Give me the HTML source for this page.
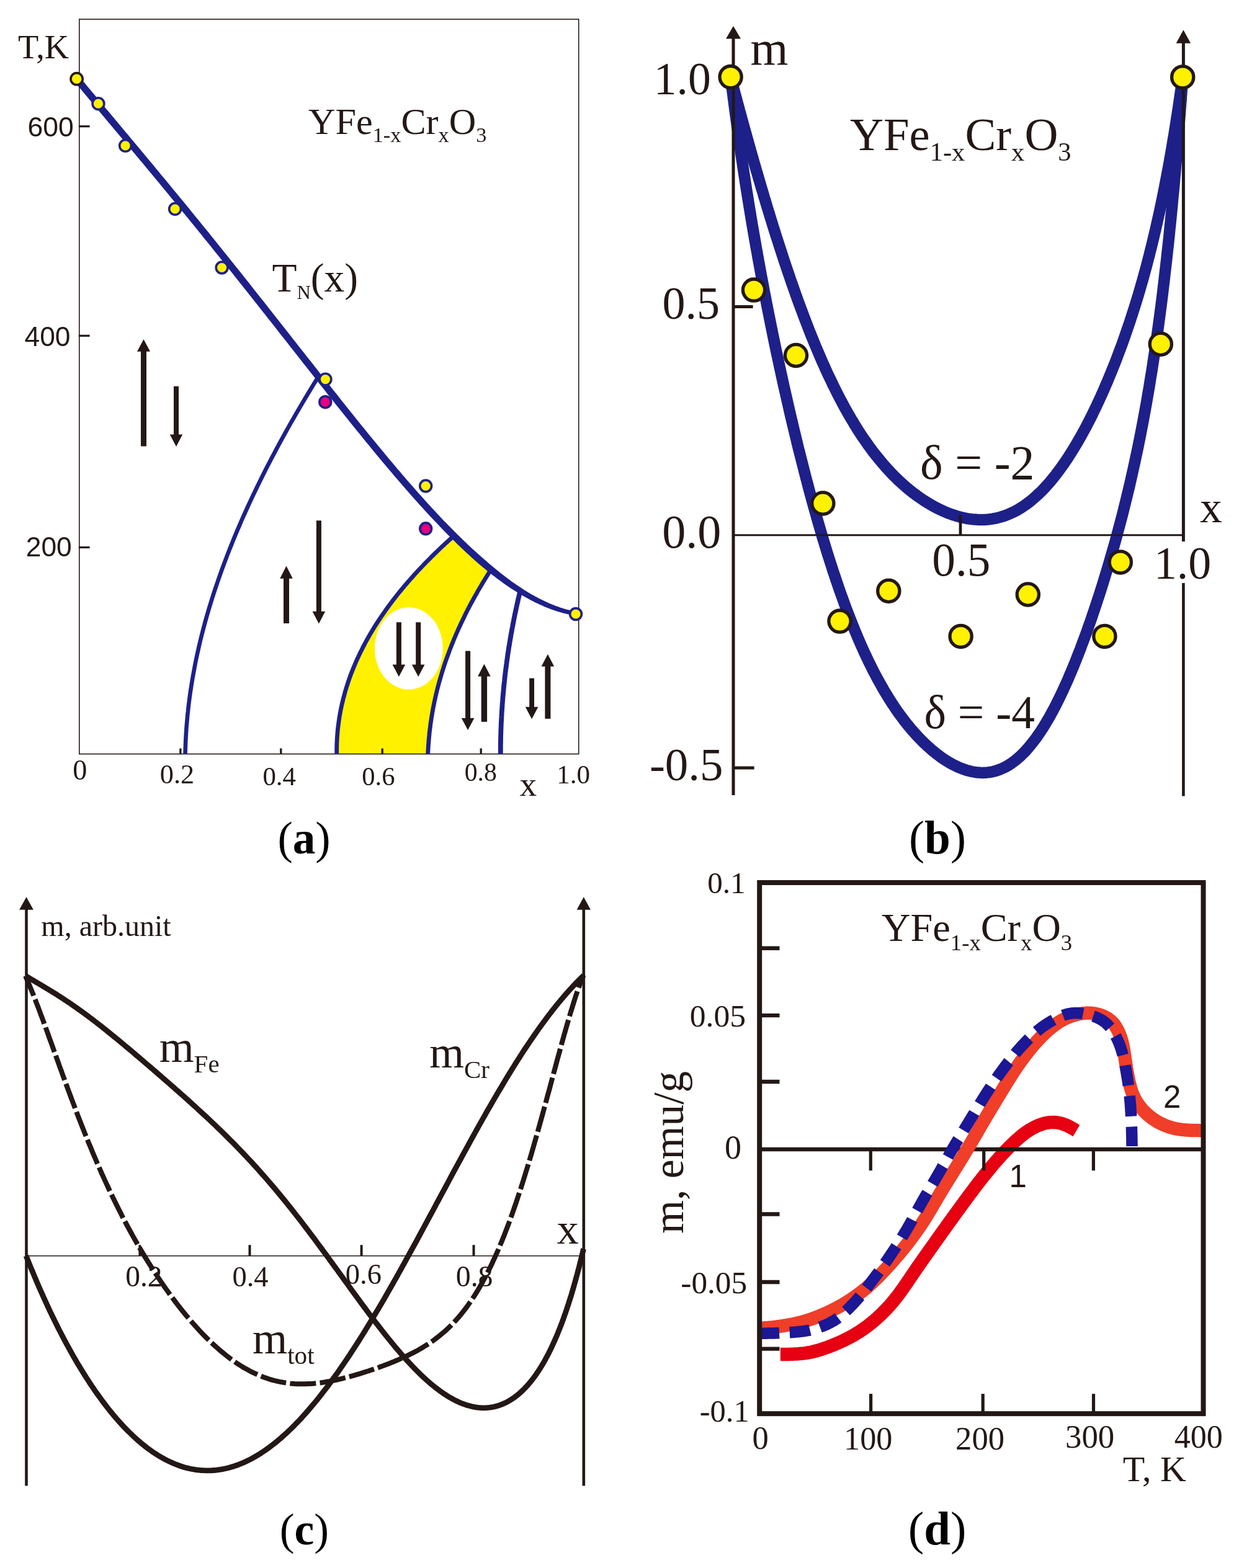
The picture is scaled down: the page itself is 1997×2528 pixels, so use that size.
<!DOCTYPE html>
<html lang="en"><head><meta charset="utf-8"><title>Figure</title>
<style>
html,body{margin:0;padding:0;background:#fff;}
body{width:1997px;height:2528px;overflow:hidden;}
svg{display:block;position:absolute;left:0;top:0;}
text{white-space:pre;}
</style></head><body>
<svg width="1997" height="2528" viewBox="0 0 1997 2528">
<rect x="0" y="0" width="1997" height="2528" fill="#ffffff"/>
<g id="panel-a">
<path d="M542.7 1216.0 L542.7 1215.9 L542.7 1215.8 L542.7 1215.5 L542.7 1215.0 L542.7 1214.5 L542.7 1213.8 L542.7 1213.0 L542.7 1212.1 L542.7 1211.1 L542.7 1210.0 L542.7 1208.7 L542.7 1207.3 L542.7 1205.8 L542.8 1204.2 L542.8 1202.5 L542.8 1200.7 L542.9 1198.7 L543.0 1196.7 L543.1 1194.5 L543.2 1192.2 L543.3 1189.9 L543.5 1187.4 L543.7 1184.8 L543.9 1182.1 L544.1 1179.3 L544.4 1176.5 L544.7 1173.5 L545.1 1170.4 L545.5 1167.3 L545.9 1164.1 L546.4 1160.7 L546.9 1157.3 L547.5 1153.8 L548.1 1150.3 L548.8 1146.6 L549.5 1142.9 L550.3 1139.1 L551.1 1135.3 L552.1 1131.4 L553.0 1127.4 L554.1 1123.4 L555.2 1119.3 L556.3 1115.1 L557.6 1110.9 L558.9 1106.6 L560.3 1102.4 L561.7 1098.0 L563.2 1093.6 L564.8 1089.2 L566.5 1084.8 L568.3 1080.3 L570.1 1075.8 L572.0 1071.3 L573.9 1066.7 L576.0 1062.1 L578.1 1057.6 L580.3 1053.0 L582.6 1048.4 L584.9 1043.8 L587.3 1039.1 L589.8 1034.5 L592.3 1029.9 L594.9 1025.3 L597.6 1020.8 L600.3 1016.2 L603.1 1011.6 L605.9 1007.1 L608.8 1002.6 L611.8 998.1 L614.8 993.7 L617.8 989.3 L620.9 984.9 L624.0 980.5 L627.1 976.3 L630.3 972.0 L633.4 967.8 L636.7 963.6 L639.9 959.5 L643.1 955.5 L646.4 951.5 L649.6 947.6 L652.8 943.8 L656.1 940.0 L659.3 936.3 L662.5 932.6 L665.7 929.1 L668.8 925.6 L671.9 922.2 L675.0 918.8 L678.1 915.6 L681.1 912.5 L684.0 909.4 L686.9 906.4 L689.7 903.6 L692.5 900.8 L695.1 898.1 L697.7 895.5 L700.3 893.0 L702.7 890.7 L705.1 888.4 L707.3 886.2 L709.5 884.2 L711.5 882.2 L713.5 880.4 L715.3 878.7 L717.1 877.1 L718.7 875.6 L720.2 874.2 L721.6 872.9 L722.8 871.8 L723.9 870.8 L724.9 869.9 L725.8 869.1 L726.6 868.4 L727.2 867.9 L727.6 867.4 L728.0 867.1 L728.2 867.0 L728.2 866.9 L729.3 861.7 L733.0 865.3 L736.6 868.8 L740.2 872.4 L743.7 875.8 L747.3 879.2 L750.8 882.5 L754.3 885.8 L757.7 889.0 L761.2 892.2 L764.6 895.3 L768.0 898.3 L771.3 901.3 L774.7 904.2 L778.0 907.1 L781.3 909.9 L784.5 912.6 L787.7 915.3 L789.7 921.0 L789.7 921.1 L789.6 921.2 L789.4 921.5 L789.2 921.8 L788.9 922.3 L788.5 922.8 L788.1 923.5 L787.6 924.3 L787.1 925.1 L786.5 926.1 L785.8 927.2 L785.1 928.3 L784.3 929.6 L783.4 930.9 L782.5 932.4 L781.6 933.9 L780.6 935.6 L779.5 937.3 L778.4 939.1 L777.3 941.1 L776.1 943.1 L774.8 945.1 L773.6 947.3 L772.2 949.6 L770.9 951.9 L769.5 954.3 L768.1 956.9 L766.6 959.4 L765.1 962.1 L763.6 964.8 L762.1 967.6 L760.5 970.5 L758.9 973.4 L757.3 976.4 L755.7 979.5 L754.1 982.6 L752.5 985.8 L750.8 989.1 L749.2 992.4 L747.6 995.8 L745.9 999.2 L744.3 1002.6 L742.6 1006.1 L741.0 1009.7 L739.3 1013.2 L737.7 1016.9 L736.1 1020.5 L734.5 1024.2 L732.9 1028.0 L731.3 1031.7 L729.8 1035.5 L728.3 1039.3 L726.8 1043.1 L725.3 1046.9 L723.8 1050.8 L722.4 1054.7 L721.0 1058.5 L719.6 1062.4 L718.2 1066.3 L716.9 1070.2 L715.6 1074.1 L714.4 1078.0 L713.1 1081.8 L712.0 1085.7 L710.8 1089.6 L709.7 1093.4 L708.6 1097.2 L707.5 1101.0 L706.5 1104.8 L705.5 1108.5 L704.6 1112.3 L703.7 1116.0 L702.8 1119.6 L702.0 1123.3 L701.2 1126.8 L700.4 1130.4 L699.7 1133.9 L699.0 1137.3 L698.3 1140.7 L697.7 1144.1 L697.1 1147.4 L696.5 1150.7 L696.0 1153.9 L695.5 1157.0 L695.0 1160.1 L694.6 1163.1 L694.1 1166.0 L693.7 1168.9 L693.4 1171.7 L693.0 1174.4 L692.7 1177.1 L692.4 1179.6 L692.1 1182.2 L691.9 1184.6 L691.7 1186.9 L691.4 1189.2 L691.3 1191.4 L691.1 1193.4 L690.9 1195.4 L690.8 1197.4 L690.6 1199.2 L690.5 1200.9 L690.4 1202.6 L690.3 1204.1 L690.2 1205.6 L690.1 1206.9 L690.1 1208.2 L690.0 1209.3 L689.9 1210.4 L689.9 1211.4 L689.9 1212.2 L689.8 1213.0 L689.8 1213.7 L689.8 1214.2 L689.8 1214.7 L689.7 1215.0 L689.7 1215.3 L689.7 1215.4 L689.7 1215.5 Z" fill="#fff100" stroke="none" stroke-width="0" stroke-linejoin="round" />
<ellipse cx="658.8" cy="1045.4" rx="54.9" ry="66.2" fill="#fff"/>
<rect x="127.8" y="31.0" width="804.9" height="1184.6" fill="none" stroke="#231815" stroke-width="1.6"/>
<line x1="126.8" y1="203.7" x2="144.6" y2="203.7" stroke="#231815" stroke-width="3.2" />
<line x1="126.8" y1="541.3" x2="144.6" y2="541.3" stroke="#231815" stroke-width="3.2" />
<line x1="126.8" y1="882.5" x2="144.6" y2="882.5" stroke="#231815" stroke-width="3.2" />
<line x1="290.9" y1="1215.6" x2="290.9" y2="1206.6" stroke="#231815" stroke-width="3.3" />
<line x1="452.8" y1="1215.6" x2="452.8" y2="1206.6" stroke="#231815" stroke-width="3.3" />
<line x1="616.2" y1="1215.6" x2="616.2" y2="1206.6" stroke="#231815" stroke-width="3.3" />
<line x1="775.2" y1="1215.6" x2="775.2" y2="1206.6" stroke="#231815" stroke-width="3.3" />
<path d="M298.6 1216.0 L298.6 1215.9 L298.6 1215.6 L298.6 1215.1 L298.6 1214.3 L298.6 1213.4 L298.6 1212.2 L298.7 1210.9 L298.7 1209.3 L298.8 1207.5 L298.8 1205.5 L298.9 1203.3 L299.0 1201.0 L299.1 1198.4 L299.2 1195.6 L299.4 1192.6 L299.5 1189.4 L299.7 1186.1 L299.9 1182.5 L300.2 1178.8 L300.4 1174.8 L300.7 1170.7 L301.1 1166.4 L301.5 1162.0 L301.9 1157.3 L302.3 1152.5 L302.9 1147.6 L303.4 1142.4 L304.0 1137.1 L304.7 1131.7 L305.4 1126.1 L306.2 1120.3 L307.0 1114.4 L308.0 1108.4 L308.9 1102.2 L310.0 1095.9 L311.1 1089.5 L312.3 1082.9 L313.5 1076.3 L314.8 1069.5 L316.2 1062.6 L317.7 1055.6 L319.3 1048.5 L320.9 1041.3 L322.6 1034.0 L324.4 1026.7 L326.3 1019.2 L328.3 1011.7 L330.3 1004.1 L332.4 996.5 L334.6 988.8 L336.9 981.0 L339.3 973.2 L341.7 965.4 L344.2 957.5 L346.8 949.6 L349.5 941.7 L352.2 933.7 L355.0 925.8 L357.8 917.8 L360.8 909.8 L363.8 901.8 L366.8 893.9 L369.9 885.9 L373.1 878.0 L376.3 870.1 L379.5 862.2 L382.8 854.4 L386.2 846.6 L389.5 838.8 L392.9 831.1 L396.4 823.5 L399.8 815.9 L403.3 808.4 L406.8 800.9 L410.3 793.6 L413.8 786.3 L417.3 779.1 L420.8 772.0 L424.3 765.0 L427.8 758.1 L431.2 751.3 L434.7 744.7 L438.1 738.1 L441.5 731.7 L444.8 725.4 L448.1 719.2 L451.4 713.2 L454.6 707.3 L457.8 701.5 L460.9 695.9 L463.9 690.5 L466.9 685.2 L469.8 680.0 L472.7 675.1 L475.4 670.3 L478.1 665.6 L480.7 661.2 L483.2 656.9 L485.6 652.8 L488.0 648.8 L490.2 645.1 L492.3 641.5 L494.3 638.2 L496.2 635.0 L498.0 632.0 L499.7 629.2 L501.3 626.6 L502.7 624.3 L504.0 622.1 L505.2 620.1 L506.3 618.3 L507.3 616.7 L508.1 615.4 L508.8 614.2 L509.4 613.3 L509.9 612.5 L510.2 612.0 L510.4 611.7 L510.5 611.6" fill="none" stroke="#1d2088" stroke-width="6.6" stroke-linejoin="round" />
<path d="M542.7 1216.0 L542.7 1215.9 L542.7 1215.8 L542.7 1215.5 L542.7 1215.0 L542.7 1214.5 L542.7 1213.8 L542.7 1213.0 L542.7 1212.1 L542.7 1211.1 L542.7 1210.0 L542.7 1208.7 L542.7 1207.3 L542.7 1205.8 L542.8 1204.2 L542.8 1202.5 L542.8 1200.7 L542.9 1198.7 L543.0 1196.7 L543.1 1194.5 L543.2 1192.2 L543.3 1189.9 L543.5 1187.4 L543.7 1184.8 L543.9 1182.1 L544.1 1179.3 L544.4 1176.5 L544.7 1173.5 L545.1 1170.4 L545.5 1167.3 L545.9 1164.1 L546.4 1160.7 L546.9 1157.3 L547.5 1153.8 L548.1 1150.3 L548.8 1146.6 L549.5 1142.9 L550.3 1139.1 L551.1 1135.3 L552.1 1131.4 L553.0 1127.4 L554.1 1123.4 L555.2 1119.3 L556.3 1115.1 L557.6 1110.9 L558.9 1106.6 L560.3 1102.4 L561.7 1098.0 L563.2 1093.6 L564.8 1089.2 L566.5 1084.8 L568.3 1080.3 L570.1 1075.8 L572.0 1071.3 L573.9 1066.7 L576.0 1062.1 L578.1 1057.6 L580.3 1053.0 L582.6 1048.4 L584.9 1043.8 L587.3 1039.1 L589.8 1034.5 L592.3 1029.9 L594.9 1025.3 L597.6 1020.8 L600.3 1016.2 L603.1 1011.6 L605.9 1007.1 L608.8 1002.6 L611.8 998.1 L614.8 993.7 L617.8 989.3 L620.9 984.9 L624.0 980.5 L627.1 976.3 L630.3 972.0 L633.4 967.8 L636.7 963.6 L639.9 959.5 L643.1 955.5 L646.4 951.5 L649.6 947.6 L652.8 943.8 L656.1 940.0 L659.3 936.3 L662.5 932.6 L665.7 929.1 L668.8 925.6 L671.9 922.2 L675.0 918.8 L678.1 915.6 L681.1 912.5 L684.0 909.4 L686.9 906.4 L689.7 903.6 L692.5 900.8 L695.1 898.1 L697.7 895.5 L700.3 893.0 L702.7 890.7 L705.1 888.4 L707.3 886.2 L709.5 884.2 L711.5 882.2 L713.5 880.4 L715.3 878.7 L717.1 877.1 L718.7 875.6 L720.2 874.2 L721.6 872.9 L722.8 871.8 L723.9 870.8 L724.9 869.9 L725.8 869.1 L726.6 868.4 L727.2 867.9 L727.6 867.4 L728.0 867.1 L728.2 867.0 L728.2 866.9" fill="none" stroke="#1d2088" stroke-width="6.8" stroke-linejoin="round" />
<path d="M689.7 1215.5 L689.7 1215.4 L689.7 1215.3 L689.7 1215.0 L689.8 1214.7 L689.8 1214.2 L689.8 1213.7 L689.8 1213.0 L689.9 1212.2 L689.9 1211.4 L689.9 1210.4 L690.0 1209.3 L690.1 1208.2 L690.1 1206.9 L690.2 1205.6 L690.3 1204.1 L690.4 1202.6 L690.5 1200.9 L690.6 1199.2 L690.8 1197.4 L690.9 1195.4 L691.1 1193.4 L691.3 1191.4 L691.4 1189.2 L691.7 1186.9 L691.9 1184.6 L692.1 1182.2 L692.4 1179.6 L692.7 1177.1 L693.0 1174.4 L693.4 1171.7 L693.7 1168.9 L694.1 1166.0 L694.6 1163.1 L695.0 1160.1 L695.5 1157.0 L696.0 1153.9 L696.5 1150.7 L697.1 1147.4 L697.7 1144.1 L698.3 1140.7 L699.0 1137.3 L699.7 1133.9 L700.4 1130.4 L701.2 1126.8 L702.0 1123.3 L702.8 1119.6 L703.7 1116.0 L704.6 1112.3 L705.5 1108.5 L706.5 1104.8 L707.5 1101.0 L708.6 1097.2 L709.7 1093.4 L710.8 1089.6 L712.0 1085.7 L713.1 1081.8 L714.4 1078.0 L715.6 1074.1 L716.9 1070.2 L718.2 1066.3 L719.6 1062.4 L721.0 1058.5 L722.4 1054.7 L723.8 1050.8 L725.3 1046.9 L726.8 1043.1 L728.3 1039.3 L729.8 1035.5 L731.3 1031.7 L732.9 1028.0 L734.5 1024.2 L736.1 1020.5 L737.7 1016.9 L739.3 1013.2 L741.0 1009.7 L742.6 1006.1 L744.3 1002.6 L745.9 999.2 L747.6 995.8 L749.2 992.4 L750.8 989.1 L752.5 985.8 L754.1 982.6 L755.7 979.5 L757.3 976.4 L758.9 973.4 L760.5 970.5 L762.1 967.6 L763.6 964.8 L765.1 962.1 L766.6 959.4 L768.1 956.9 L769.5 954.3 L770.9 951.9 L772.2 949.6 L773.6 947.3 L774.8 945.1 L776.1 943.1 L777.3 941.1 L778.4 939.1 L779.5 937.3 L780.6 935.6 L781.6 933.9 L782.5 932.4 L783.4 930.9 L784.3 929.6 L785.1 928.3 L785.8 927.2 L786.5 926.1 L787.1 925.1 L787.6 924.3 L788.1 923.5 L788.5 922.8 L788.9 922.3 L789.2 921.8 L789.4 921.5 L789.6 921.2 L789.7 921.1 L789.7 921.0" fill="none" stroke="#1d2088" stroke-width="6.8" stroke-linejoin="round" />
<path d="M806.8 1215.5 L806.8 1215.5 L806.8 1215.3 L806.8 1215.1 L806.8 1214.8 L806.8 1214.4 L806.8 1213.9 L806.8 1213.3 L806.8 1212.6 L806.8 1211.9 L806.8 1211.0 L806.8 1210.1 L806.8 1209.0 L806.8 1207.9 L806.8 1206.7 L806.8 1205.5 L806.8 1204.1 L806.8 1202.6 L806.8 1201.1 L806.9 1199.5 L806.9 1197.8 L806.9 1196.1 L807.0 1194.2 L807.0 1192.3 L807.0 1190.3 L807.1 1188.2 L807.1 1186.1 L807.2 1183.9 L807.3 1181.6 L807.3 1179.3 L807.4 1176.9 L807.5 1174.4 L807.6 1171.9 L807.7 1169.3 L807.8 1166.6 L807.9 1163.9 L808.1 1161.1 L808.2 1158.3 L808.4 1155.5 L808.5 1152.5 L808.7 1149.6 L808.9 1146.6 L809.1 1143.5 L809.3 1140.4 L809.5 1137.3 L809.7 1134.2 L810.0 1131.0 L810.2 1127.7 L810.5 1124.5 L810.8 1121.2 L811.1 1117.9 L811.4 1114.5 L811.7 1111.2 L812.0 1107.8 L812.3 1104.4 L812.7 1101.0 L813.1 1097.6 L813.4 1094.2 L813.8 1090.8 L814.2 1087.4 L814.6 1083.9 L815.0 1080.5 L815.5 1077.1 L815.9 1073.7 L816.4 1070.3 L816.8 1066.9 L817.3 1063.5 L817.8 1060.1 L818.2 1056.8 L818.7 1053.4 L819.2 1050.1 L819.7 1046.8 L820.2 1043.6 L820.8 1040.3 L821.3 1037.1 L821.8 1034.0 L822.3 1030.9 L822.9 1027.8 L823.4 1024.7 L823.9 1021.7 L824.5 1018.8 L825.0 1015.8 L825.5 1013.0 L826.1 1010.2 L826.6 1007.4 L827.1 1004.7 L827.6 1002.0 L828.1 999.4 L828.6 996.9 L829.1 994.4 L829.6 992.0 L830.1 989.7 L830.6 987.4 L831.1 985.2 L831.5 983.1 L832.0 981.0 L832.4 979.0 L832.8 977.1 L833.2 975.2 L833.6 973.5 L834.0 971.8 L834.4 970.2 L834.7 968.7 L835.0 967.2 L835.3 965.8 L835.6 964.6 L835.9 963.4 L836.2 962.3 L836.4 961.2 L836.6 960.3 L836.8 959.4 L837.0 958.7 L837.2 958.0 L837.3 957.4 L837.4 956.9 L837.5 956.5 L837.6 956.2 L837.7 956.0 L837.7 955.8 L837.7 955.8" fill="none" stroke="#1d2088" stroke-width="7.8" stroke-linejoin="round" />
<path d="M119.3 130.7 L119.3 130.8 L119.4 130.8 L119.5 131.0 L119.6 131.2 L119.8 131.4 L120.1 131.7 L120.4 132.1 L120.7 132.5 L121.1 132.9 L121.5 133.4 L122.0 134.0 L122.5 134.6 L123.0 135.3 L123.6 136.0 L124.3 136.7 L125.0 137.6 L125.7 138.4 L126.5 139.4 L127.3 140.4 L128.1 141.4 L129.0 142.5 L130.0 143.6 L131.0 144.8 L132.0 146.0 L133.1 147.3 L134.2 148.7 L135.4 150.1 L136.6 151.5 L137.8 153.0 L139.1 154.5 L140.4 156.1 L141.8 157.8 L143.2 159.5 L144.7 161.2 L146.2 163.0 L147.7 164.9 L149.3 166.8 L150.9 168.7 L152.6 170.7 L154.3 172.7 L156.1 174.8 L157.8 177.0 L159.7 179.1 L161.5 181.4 L163.4 183.6 L165.4 186.0 L167.4 188.3 L169.4 190.8 L171.4 193.2 L173.5 195.7 L175.7 198.3 L177.9 200.9 L180.1 203.5 L182.3 206.2 L184.6 209.0 L186.9 211.7 L189.3 214.6 L191.7 217.4 L194.1 220.3 L196.6 223.3 L199.1 226.3 L201.7 229.3 L204.2 232.4 L206.9 235.6 L209.5 238.7 L212.2 242.0 L214.9 245.2 L217.7 248.5 L220.4 251.9 L223.3 255.2 L226.1 258.7 L229.0 262.1 L231.9 265.6 L234.9 269.2 L237.8 272.8 L240.9 276.4 L243.9 280.1 L247.0 283.8 L250.1 287.5 L253.2 291.3 L256.4 295.1 L259.6 299.0 L262.8 302.9 L266.0 306.8 L269.3 310.8 L272.6 314.8 L275.9 318.9 L279.3 322.9 L282.7 327.1 L286.1 331.2 L289.5 335.4 L293.0 339.7 L296.5 343.9 L300.0 348.2 L303.5 352.6 L307.1 356.9 L310.7 361.3 L314.3 365.8 L317.9 370.3 L321.6 374.8 L325.2 379.3 L328.9 383.9 L332.7 388.5 L336.4 393.1 L340.2 397.8 L343.9 402.5 L347.7 407.2 L351.6 412.0 L355.4 416.7 L359.3 421.5 L363.1 426.4 L367.0 431.3 L370.9 436.1 L374.9 441.1 L378.8 446.0 L382.8 451.0 L386.7 456.0 L390.7 461.0 L394.7 466.0 L398.7 471.1 L402.8 476.2 L406.8 481.3 L410.9 486.4 L414.9 491.6 L419.0 496.7 L423.1 501.9 L427.2 507.1 L431.3 512.4 L435.4 517.6 L439.6 522.8 L443.7 528.1 L447.9 533.4 L452.0 538.7 L456.2 544.0 L460.4 549.3 L464.5 554.6 L468.7 559.9 L472.9 565.3 L477.1 570.6 L481.3 576.0 L485.5 581.3 L489.7 586.7 L494.0 592.0 L498.2 597.4 L502.4 602.8 L506.6 608.1 L510.8 613.5 L515.1 618.9 L519.3 624.2 L523.5 629.6 L527.7 634.9 L532.0 640.2 L536.2 645.6 L540.4 650.9 L544.6 656.2 L548.9 661.5 L553.1 666.8 L557.3 672.0 L561.5 677.3 L565.7 682.5 L569.9 687.8 L574.1 693.0 L578.3 698.1 L582.5 703.3 L586.7 708.4 L590.8 713.5 L595.0 718.6 L599.2 723.7 L603.3 728.7 L607.4 733.7 L611.6 738.7 L615.7 743.7 L619.8 748.6 L623.9 753.5 L628.0 758.3 L632.1 763.1 L636.1 767.9 L640.2 772.6 L644.2 777.3 L648.3 782.0 L652.3 786.6 L656.3 791.2 L660.3 795.8 L664.2 800.2 L668.2 804.7 L672.1 809.1 L676.0 813.5 L680.0 817.8 L683.8 822.1 L687.7 826.3 L691.6 830.4 L695.4 834.6 L699.2 838.6 L703.0 842.6 L706.8 846.6 L710.5 850.5 L714.3 854.4 L718.0 858.2 L721.7 861.9 L725.4 865.6 L729.0 869.3 L732.7 872.8 L736.3 876.4 L739.8 879.8 L743.4 883.2 L746.9 886.6 L750.5 889.9 L753.9 893.1 L757.4 896.3 L760.8 899.4 L764.3 902.5 L767.6 905.5 L771.0 908.4 L774.3 911.3 L777.6 914.1 L781.0 916.8 L784.2 919.5 L787.5 922.1 L790.7 924.7 L793.9 927.2 L797.1 929.6 L800.2 932.0 L803.3 934.3 L806.4 936.5 L809.4 938.7 L812.4 940.9 L815.4 943.0 L818.3 945.0 L821.2 947.0 L824.1 948.9 L827.0 950.7 L829.8 952.6 L832.5 954.3 L835.3 956.0 L838.0 957.7 L840.6 959.3 L843.3 960.8 L845.9 962.3 L848.4 963.7 L851.0 965.1 L853.5 966.5 L855.9 967.8 L858.3 969.0 L860.7 970.3 L863.0 971.4 L865.3 972.5 L867.6 973.6 L869.8 974.7 L872.0 975.6 L874.2 976.6 L876.3 977.5 L878.3 978.4 L880.4 979.2 L882.3 980.0 L884.3 980.8 L886.2 981.5 L888.1 982.2 L889.9 982.9 L891.7 983.5 L893.4 984.1 L895.1 984.7 L896.8 985.2 L898.4 985.8 L900.0 986.2 L901.5 986.7 L903.0 987.1 L904.4 987.6 L905.8 987.9 L907.2 988.3 L908.5 988.7 L909.8 989.0 L911.0 989.3 L912.2 989.6 L913.4 989.8 L914.5 990.1 L915.5 990.3 L916.5 990.6 L917.5 990.8 L918.4 990.9 L919.3 991.1 L920.1 991.3 L920.9 991.4 L921.7 991.6 L922.4 991.7 L923.0 991.8 L923.6 991.9 L924.2 992.0 L924.7 992.1 L925.2 992.2 L925.6 992.3 L926.0 992.3 L926.4 992.4 L926.6 992.4 L926.9 992.5 L927.1 992.5 L927.3 992.5 L927.4 992.5 L927.4 992.5 L927.5 992.5 L928.5 986.0 L928.5 986.0 L928.5 986.0 L928.3 986.0 L928.2 986.0 L928.0 985.9 L927.8 985.9 L927.5 985.8 L927.1 985.8 L926.8 985.7 L926.4 985.6 L925.9 985.5 L925.4 985.4 L924.9 985.3 L924.3 985.2 L923.7 985.1 L923.0 984.9 L922.3 984.8 L921.5 984.6 L920.7 984.4 L919.9 984.2 L919.0 984.0 L918.1 983.8 L917.1 983.6 L916.1 983.3 L915.0 983.0 L914.0 982.7 L912.8 982.4 L911.6 982.1 L910.4 981.7 L909.2 981.4 L907.9 981.0 L906.5 980.6 L905.1 980.1 L903.7 979.7 L902.2 979.2 L900.7 978.6 L899.2 978.1 L897.6 977.5 L896.0 976.9 L894.3 976.3 L892.6 975.6 L890.9 974.9 L889.1 974.2 L887.3 973.5 L885.4 972.7 L883.5 971.8 L881.6 971.0 L879.6 970.1 L877.6 969.1 L875.5 968.1 L873.4 967.1 L871.3 966.1 L869.1 964.9 L866.9 963.8 L864.7 962.6 L862.4 961.4 L860.1 960.1 L857.7 958.7 L855.4 957.4 L852.9 955.9 L850.5 954.5 L848.0 952.9 L845.5 951.4 L842.9 949.7 L840.3 948.1 L837.7 946.3 L835.0 944.6 L832.3 942.7 L829.6 940.8 L826.8 938.9 L824.0 936.9 L821.2 934.8 L818.3 932.7 L815.5 930.5 L812.5 928.3 L809.6 926.0 L806.6 923.7 L803.6 921.3 L800.5 918.8 L797.5 916.3 L794.4 913.7 L791.2 911.1 L788.1 908.4 L784.9 905.6 L781.6 902.8 L778.4 900.0 L775.0 897.1 L771.7 894.1 L768.3 891.1 L765.0 888.0 L761.5 884.9 L758.1 881.7 L754.6 878.4 L751.1 875.1 L747.6 871.8 L744.1 868.3 L740.5 864.8 L736.9 861.3 L733.3 857.7 L729.7 854.0 L726.0 850.3 L722.3 846.6 L718.6 842.7 L714.9 838.9 L711.1 834.9 L707.4 830.9 L703.6 826.9 L699.8 822.8 L695.9 818.7 L692.1 814.5 L688.2 810.3 L684.4 806.0 L680.5 801.6 L676.5 797.3 L672.6 792.8 L668.7 788.4 L664.7 783.8 L660.7 779.3 L656.7 774.7 L652.7 770.0 L648.7 765.4 L644.7 760.6 L640.6 755.9 L636.6 751.1 L632.5 746.3 L628.4 741.4 L624.3 736.5 L620.2 731.6 L616.1 726.6 L611.9 721.6 L607.8 716.6 L603.7 711.5 L599.5 706.5 L595.4 701.4 L591.2 696.2 L587.0 691.1 L582.8 685.9 L578.6 680.7 L574.4 675.5 L570.2 670.3 L566.0 665.0 L561.8 659.8 L557.6 654.5 L553.4 649.2 L549.2 643.9 L545.0 638.6 L540.8 633.3 L536.5 628.0 L532.3 622.6 L528.1 617.3 L523.9 611.9 L519.6 606.6 L515.4 601.2 L511.2 595.8 L507.0 590.5 L502.8 585.1 L498.5 579.8 L494.3 574.4 L490.1 569.0 L485.9 563.7 L481.7 558.4 L477.5 553.0 L473.3 547.7 L469.2 542.4 L465.0 537.1 L460.8 531.8 L456.7 526.5 L452.5 521.2 L448.4 515.9 L444.2 510.7 L440.1 505.4 L436.0 500.2 L431.9 495.0 L427.8 489.8 L423.7 484.6 L419.6 479.5 L415.6 474.4 L411.5 469.2 L407.5 464.2 L403.5 459.1 L399.5 454.0 L395.5 449.0 L391.5 444.0 L387.6 439.0 L383.6 434.1 L379.7 429.2 L375.8 424.3 L371.9 419.4 L368.0 414.5 L364.1 409.7 L360.3 404.9 L356.5 400.2 L352.7 395.5 L348.9 390.8 L345.1 386.1 L341.4 381.4 L337.7 376.8 L334.0 372.3 L330.3 367.7 L326.6 363.2 L323.0 358.7 L319.4 354.3 L315.8 349.9 L312.2 345.5 L308.7 341.2 L305.2 336.8 L301.7 332.6 L298.2 328.3 L294.8 324.1 L291.3 320.0 L287.9 315.8 L284.6 311.7 L281.2 307.7 L277.9 303.7 L274.7 299.7 L271.4 295.8 L268.2 291.8 L265.0 288.0 L261.8 284.2 L258.7 280.4 L255.6 276.6 L252.5 272.9 L249.5 269.2 L246.5 265.6 L243.5 262.0 L240.5 258.5 L237.6 255.0 L234.7 251.5 L231.9 248.1 L229.1 244.7 L226.3 241.3 L223.5 238.0 L220.8 234.8 L218.1 231.6 L215.5 228.4 L212.8 225.3 L210.3 222.2 L207.7 219.1 L205.2 216.1 L202.7 213.2 L200.3 210.2 L197.9 207.4 L195.5 204.5 L193.2 201.8 L190.9 199.0 L188.7 196.3 L186.4 193.7 L184.3 191.1 L182.1 188.5 L180.0 186.0 L178.0 183.6 L175.9 181.1 L174.0 178.8 L172.0 176.5 L170.1 174.2 L168.3 171.9 L166.4 169.8 L164.6 167.6 L162.9 165.5 L161.2 163.5 L159.5 161.5 L157.9 159.6 L156.3 157.7 L154.8 155.8 L153.3 154.0 L151.8 152.3 L150.4 150.6 L149.0 149.0 L147.7 147.4 L146.4 145.8 L145.2 144.3 L144.0 142.9 L142.8 141.5 L141.7 140.2 L140.6 138.9 L139.6 137.6 L138.6 136.4 L137.7 135.3 L136.8 134.2 L135.9 133.2 L135.1 132.2 L134.3 131.3 L133.6 130.4 L132.9 129.6 L132.2 128.8 L131.7 128.1 L131.1 127.4 L130.6 126.8 L130.1 126.3 L129.7 125.7 L129.3 125.3 L129.0 124.9 L128.7 124.5 L128.5 124.3 L128.3 124.0 L128.1 123.8 L128.0 123.7 L127.9 123.6 L127.9 123.6 Z" fill="#1d2088"/>
<circle cx="123.6" cy="127.2" r="9.6" fill="#fff100" stroke="#231815" stroke-width="3.6"/>
<circle cx="158.5" cy="167.2" r="9.4" fill="#fff100" stroke="#1d2088" stroke-width="3.6"/>
<circle cx="202.1" cy="234.9" r="9.4" fill="#fff100" stroke="#1d2088" stroke-width="3.6"/>
<circle cx="282.1" cy="336.9" r="9.4" fill="#fff100" stroke="#1d2088" stroke-width="3.6"/>
<circle cx="357.6" cy="431.5" r="9.4" fill="#fff100" stroke="#1d2088" stroke-width="3.6"/>
<circle cx="524.5" cy="611.6" r="9.4" fill="#fff100" stroke="#1d2088" stroke-width="3.6"/>
<circle cx="686.2" cy="783.5" r="9.4" fill="#fff100" stroke="#1d2088" stroke-width="3.6"/>
<circle cx="928.0" cy="990.0" r="9.4" fill="#fff100" stroke="#1d2088" stroke-width="3.6"/>
<circle cx="524.3" cy="648.2" r="9.4" fill="#e4007f" stroke="#1d2088" stroke-width="3.6"/>
<circle cx="686.2" cy="852.3" r="9.4" fill="#e4007f" stroke="#1d2088" stroke-width="3.6"/>
<polygon points="227.0,719.4 236.0,719.4 236.0,566.7 242.0,566.7 231.5,547.1 221.0,566.7 227.0,566.7" fill="#231815"/>
<polygon points="280.0,622.8 288.0,622.8 288.0,700.4 294.2,700.4 284.0,720.0 273.8,700.4 280.0,700.4" fill="#231815"/>
<polygon points="457.0,1004.9 466.0,1004.9 466.0,932.8 471.8,932.8 461.5,912.6 451.2,932.8 457.0,932.8" fill="#231815"/>
<polygon points="509.9,839.2 517.9,839.2 517.9,985.8 524.2,985.8 513.9,1005.4 503.6,985.8 509.9,985.8" fill="#231815"/>
<polygon points="638.9,1003.3 646.9,1003.3 646.9,1071.5 653.2,1071.5 642.9,1091.1 632.6,1071.5 638.9,1071.5" fill="#231815"/>
<polygon points="670.2,1003.3 678.2,1003.3 678.2,1071.5 684.5,1071.5 674.2,1091.1 663.9,1071.5 670.2,1071.5" fill="#231815"/>
<polygon points="750.1,1049.5 758.1,1049.5 758.1,1157.7 764.4,1157.7 754.1,1176.9 743.8,1157.7 750.1,1157.7" fill="#231815"/>
<polygon points="775.7,1163.7 785.1,1163.7 785.1,1090.5 790.7,1090.5 780.4,1070.6 770.1,1090.5 775.7,1090.5" fill="#231815"/>
<polygon points="853.2,1093.4 861.0,1093.4 861.0,1139.7 867.4,1139.7 857.1,1159.3 846.8,1139.7 853.2,1139.7" fill="#231815"/>
<polygon points="878.4,1158.7 887.4,1158.7 887.4,1074.4 893.2,1074.4 882.9,1054.8 872.6,1074.4 878.4,1074.4" fill="#231815"/>
<text x="29.0" y="94.1" font-size="54.4" font-family="'Liberation Serif','DejaVu Serif',serif" text-anchor="start" font-weight="normal" fill="#231815" >T,K</text>
<text x="44.5" y="220.4" font-size="44.5" font-family="'Liberation Sans','DejaVu Sans',sans-serif" text-anchor="start" font-weight="normal" fill="#231815" >600</text>
<text x="39.5" y="557.8" font-size="44.3" font-family="'Liberation Sans','DejaVu Sans',sans-serif" text-anchor="start" font-weight="normal" fill="#231815" >400</text>
<text x="41.7" y="896.5" font-size="44.4" font-family="'Liberation Sans','DejaVu Sans',sans-serif" text-anchor="start" font-weight="normal" fill="#231815" >200</text>
<text x="497.0" y="215.5" font-size="60.2" font-family="'Liberation Serif','DejaVu Serif',serif" text-anchor="start" font-weight="normal" fill="#231815" ><tspan font-size="60.2" dy="0.0">YFe</tspan><tspan font-size="34.3" dy="13.5">1-x</tspan><tspan font-size="60.2" dy="-13.5">Cr</tspan><tspan font-size="34.3" dy="13.5">x</tspan><tspan font-size="60.2" dy="-13.5">O</tspan><tspan font-size="34.3" dy="13.5">3</tspan></text>
<text x="438.4" y="469.6" font-size="65.5" font-family="'Liberation Serif','DejaVu Serif',serif" text-anchor="start" font-weight="normal" fill="#231815" ><tspan font-size="65.5" dy="0.0">T</tspan><tspan font-size="30.8" dy="12.8">N</tspan><tspan font-size="65.5" dy="-12.8">(x)</tspan></text>
<text x="117.2" y="1256.8" font-size="46.2" font-family="'Liberation Serif','DejaVu Serif',serif" text-anchor="start" font-weight="normal" fill="#231815" >0</text>
<text x="257.8" y="1263.2" font-size="44.3" font-family="'Liberation Serif','DejaVu Serif',serif" text-anchor="start" font-weight="normal" fill="#231815" >0.2</text>
<text x="423.4" y="1266.2" font-size="42.8" font-family="'Liberation Serif','DejaVu Serif',serif" text-anchor="start" font-weight="normal" fill="#231815" >0.4</text>
<text x="583.3" y="1265.6" font-size="42.6" font-family="'Liberation Serif','DejaVu Serif',serif" text-anchor="start" font-weight="normal" fill="#231815" >0.6</text>
<text x="748.7" y="1259.4" font-size="41.7" font-family="'Liberation Serif','DejaVu Serif',serif" text-anchor="start" font-weight="normal" fill="#231815" >0.8</text>
<text x="897.2" y="1263.2" font-size="43.1" font-family="'Liberation Serif','DejaVu Serif',serif" text-anchor="start" font-weight="normal" fill="#231815" >1.0</text>
<text x="837.5" y="1283.1" font-size="55.3" font-family="'Liberation Serif','DejaVu Serif',serif" text-anchor="start" font-weight="normal" fill="#231815" >x</text>
</g>
<g id="panel-b">
<path d="M1177.6 124.0 L1177.6 124.1 L1177.6 124.2 L1177.7 124.4 L1177.8 124.7 L1177.9 125.1 L1178.0 125.6 L1178.2 126.1 L1178.3 126.8 L1178.5 127.5 L1178.7 128.3 L1179.0 129.2 L1179.2 130.2 L1179.5 131.3 L1179.8 132.4 L1180.1 133.7 L1180.5 135.0 L1180.9 136.4 L1181.3 137.9 L1181.7 139.5 L1182.1 141.1 L1182.6 142.9 L1183.1 144.7 L1183.6 146.6 L1184.1 148.6 L1184.6 150.7 L1185.2 152.8 L1185.8 155.0 L1186.4 157.3 L1187.1 159.7 L1187.7 162.2 L1188.4 164.7 L1189.1 167.3 L1189.8 170.0 L1190.6 172.8 L1191.3 175.6 L1192.1 178.6 L1193.0 181.6 L1193.8 184.6 L1194.6 187.8 L1195.5 191.0 L1196.4 194.3 L1197.3 197.6 L1198.3 201.0 L1199.2 204.5 L1200.2 208.1 L1201.2 211.7 L1202.3 215.4 L1203.3 219.2 L1204.4 223.0 L1205.5 226.9 L1206.6 230.9 L1207.7 234.9 L1208.9 239.0 L1210.0 243.2 L1211.2 247.4 L1212.4 251.7 L1213.7 256.0 L1214.9 260.4 L1216.2 264.8 L1217.5 269.3 L1218.8 273.9 L1220.2 278.5 L1221.5 283.1 L1222.9 287.9 L1224.3 292.6 L1225.7 297.4 L1227.1 302.3 L1228.6 307.2 L1230.1 312.2 L1231.5 317.2 L1233.1 322.2 L1234.6 327.3 L1236.1 332.4 L1237.7 337.6 L1239.3 342.8 L1240.9 348.0 L1242.5 353.3 L1244.2 358.6 L1245.8 364.0 L1247.5 369.3 L1249.2 374.8 L1250.9 380.2 L1252.7 385.6 L1254.4 391.1 L1256.2 396.6 L1258.0 402.2 L1259.8 407.7 L1261.6 413.3 L1263.4 418.9 L1265.3 424.4 L1267.2 430.1 L1269.1 435.7 L1271.0 441.3 L1272.9 446.9 L1274.8 452.6 L1276.8 458.2 L1278.8 463.9 L1280.8 469.5 L1282.8 475.2 L1284.8 480.8 L1286.8 486.5 L1288.9 492.1 L1291.0 497.7 L1293.1 503.3 L1295.2 508.9 L1297.3 514.5 L1299.4 520.1 L1301.6 525.6 L1303.7 531.2 L1305.9 536.7 L1308.1 542.2 L1310.3 547.6 L1312.5 553.1 L1314.8 558.5 L1317.0 563.8 L1319.3 569.2 L1321.6 574.5 L1323.8 579.8 L1326.1 585.0 L1328.5 590.2 L1330.8 595.4 L1333.1 600.5 L1335.5 605.6 L1337.9 610.6 L1340.3 615.6 L1342.6 620.5 L1345.1 625.4 L1347.5 630.3 L1349.9 635.1 L1352.3 639.8 L1354.8 644.5 L1357.3 649.2 L1359.8 653.8 L1362.2 658.3 L1364.7 662.8 L1367.3 667.3 L1369.8 671.6 L1372.3 676.0 L1374.9 680.2 L1377.4 684.4 L1380.0 688.6 L1382.5 692.7 L1385.1 696.7 L1387.7 700.7 L1390.3 704.6 L1392.9 708.4 L1395.6 712.2 L1398.2 716.0 L1400.8 719.6 L1403.5 723.2 L1406.1 726.8 L1408.8 730.3 L1411.5 733.7 L1414.2 737.1 L1416.9 740.4 L1419.6 743.7 L1422.3 746.9 L1425.0 750.0 L1427.7 753.1 L1430.4 756.1 L1433.2 759.1 L1435.9 762.0 L1438.6 764.9 L1441.4 767.7 L1444.2 770.4 L1446.9 773.1 L1449.7 775.7 L1452.5 778.3 L1455.3 780.8 L1458.0 783.3 L1460.8 785.7 L1463.6 788.0 L1466.4 790.3 L1469.2 792.6 L1472.1 794.8 L1474.9 796.9 L1477.7 799.0 L1480.5 801.0 L1483.4 803.0 L1486.2 804.9 L1489.0 806.8 L1491.9 808.6 L1494.7 810.4 L1497.6 812.1 L1500.4 813.8 L1503.2 815.4 L1506.1 817.0 L1509.0 818.5 L1511.8 820.0 L1514.7 821.4 L1517.5 822.7 L1520.4 824.0 L1523.3 825.2 L1526.1 826.4 L1529.0 827.6 L1531.9 828.7 L1534.7 829.7 L1537.6 830.6 L1540.5 831.6 L1543.3 832.4 L1546.2 833.2 L1549.1 833.9 L1551.9 834.6 L1554.8 835.2 L1557.7 835.8 L1560.5 836.3 L1563.4 836.7 L1566.3 837.1 L1569.1 837.4 L1572.0 837.6 L1574.8 837.8 L1577.7 837.9 L1580.6 838.0 L1583.4 838.0 L1586.2 837.9 L1589.1 837.7 L1591.9 837.5 L1594.8 837.2 L1597.6 836.8 L1600.4 836.4 L1603.3 835.8 L1606.1 835.3 L1608.9 834.6 L1611.7 833.9 L1614.6 833.0 L1617.4 832.2 L1620.2 831.2 L1623.0 830.1 L1625.8 829.0 L1628.5 827.8 L1631.3 826.6 L1634.1 825.2 L1636.9 823.8 L1639.6 822.3 L1642.4 820.7 L1645.2 819.0 L1647.9 817.2 L1650.6 815.4 L1653.4 813.5 L1656.1 811.5 L1658.8 809.5 L1661.5 807.3 L1664.2 805.1 L1666.9 802.8 L1669.6 800.4 L1672.3 797.9 L1675.0 795.4 L1677.7 792.8 L1680.3 790.1 L1683.0 787.4 L1685.6 784.5 L1688.2 781.6 L1690.9 778.6 L1693.5 775.6 L1696.1 772.4 L1698.7 769.2 L1701.3 766.0 L1703.8 762.6 L1706.4 759.2 L1708.9 755.8 L1711.5 752.2 L1714.0 748.6 L1716.5 745.0 L1719.1 741.2 L1721.6 737.5 L1724.0 733.6 L1726.5 729.7 L1729.0 725.7 L1731.5 721.7 L1733.9 717.6 L1736.3 713.5 L1738.7 709.3 L1741.2 705.1 L1743.5 700.8 L1745.9 696.5 L1748.3 692.1 L1750.7 687.7 L1753.0 683.2 L1755.3 678.7 L1757.7 674.1 L1760.0 669.5 L1762.2 664.8 L1764.5 660.2 L1766.8 655.4 L1769.0 650.6 L1771.3 645.8 L1773.5 641.0 L1775.7 636.1 L1777.9 631.2 L1780.1 626.2 L1782.2 621.2 L1784.4 616.2 L1786.5 611.2 L1788.6 606.1 L1790.7 601.0 L1792.8 595.8 L1794.9 590.6 L1797.0 585.4 L1799.0 580.2 L1801.0 574.9 L1803.0 569.6 L1805.0 564.3 L1807.0 559.0 L1809.0 553.6 L1810.9 548.2 L1812.8 542.8 L1814.7 537.3 L1816.6 531.8 L1818.5 526.3 L1820.4 520.8 L1822.2 515.2 L1824.0 509.7 L1825.8 504.1 L1827.6 498.5 L1829.4 492.8 L1831.1 487.2 L1832.9 481.5 L1834.6 475.8 L1836.3 470.1 L1838.0 464.3 L1839.6 458.6 L1841.3 452.8 L1842.9 447.0 L1844.5 441.2 L1846.1 435.4 L1847.7 429.5 L1849.2 423.7 L1850.7 417.8 L1852.3 412.0 L1853.7 406.1 L1855.2 400.2 L1856.7 394.3 L1858.1 388.4 L1859.5 382.5 L1860.9 376.7 L1862.3 370.8 L1863.6 364.9 L1865.0 359.0 L1866.3 353.1 L1867.6 347.3 L1868.9 341.4 L1870.1 335.6 L1871.4 329.7 L1872.6 323.9 L1873.8 318.1 L1874.9 312.4 L1876.1 306.6 L1877.2 300.9 L1878.3 295.3 L1879.4 289.6 L1880.5 284.0 L1881.5 278.5 L1882.6 273.0 L1883.6 267.5 L1884.6 262.1 L1885.5 256.7 L1886.5 251.4 L1887.4 246.2 L1888.3 241.0 L1889.2 235.9 L1890.0 230.9 L1890.8 225.9 L1891.7 221.0 L1892.5 216.2 L1893.2 211.5 L1894.0 206.9 L1894.7 202.3 L1895.4 197.9 L1896.1 193.6 L1896.7 189.3 L1897.4 185.2 L1898.0 181.2 L1898.6 177.3 L1899.2 173.5 L1899.7 169.8 L1900.2 166.3 L1900.7 162.8 L1901.2 159.6 L1901.7 156.4 L1902.1 153.4 L1902.5 150.5 L1902.9 147.7 L1903.3 145.1 L1903.7 142.7 L1904.0 140.4 L1904.3 138.2 L1904.6 136.2 L1904.8 134.4 L1905.1 132.7 L1905.3 131.1 L1905.5 129.7 L1905.6 128.5 L1905.8 127.4 L1905.9 126.5 L1906.0 125.8 L1906.1 125.2 L1906.2 124.8 L1906.2 124.6 L1906.2 124.5" fill="none" stroke="#1d2088" stroke-width="18.5" stroke-linejoin="round" />
<path d="M1177.6 123.9 L1177.6 124.0 L1177.6 124.2 L1177.7 124.7 L1177.8 125.3 L1177.9 126.1 L1178.0 127.1 L1178.2 128.3 L1178.3 129.7 L1178.5 131.2 L1178.7 132.9 L1179.0 134.8 L1179.2 136.8 L1179.5 139.1 L1179.8 141.4 L1180.1 144.0 L1180.5 146.7 L1180.9 149.6 L1181.3 152.7 L1181.7 155.9 L1182.1 159.3 L1182.6 162.8 L1183.1 166.5 L1183.6 170.3 L1184.1 174.3 L1184.6 178.4 L1185.2 182.7 L1185.8 187.1 L1186.4 191.6 L1187.1 196.3 L1187.7 201.1 L1188.4 206.0 L1189.1 211.1 L1189.8 216.3 L1190.6 221.6 L1191.3 227.0 L1192.1 232.5 L1193.0 238.1 L1193.8 243.9 L1194.6 249.7 L1195.5 255.7 L1196.4 261.7 L1197.3 267.8 L1198.3 274.1 L1199.2 280.4 L1200.2 286.8 L1201.2 293.3 L1202.3 299.9 L1203.3 306.5 L1204.4 313.2 L1205.5 320.0 L1206.6 326.9 L1207.7 333.9 L1208.9 340.9 L1210.0 347.9 L1211.2 355.1 L1212.4 362.3 L1213.7 369.5 L1214.9 376.8 L1216.2 384.2 L1217.5 391.6 L1218.8 399.1 L1220.2 406.6 L1221.5 414.1 L1222.9 421.8 L1224.3 429.4 L1225.7 437.1 L1227.1 444.8 L1228.6 452.6 L1230.1 460.4 L1231.5 468.3 L1233.1 476.1 L1234.6 484.1 L1236.1 492.0 L1237.7 500.0 L1239.3 508.0 L1240.9 516.0 L1242.5 524.1 L1244.2 532.2 L1245.8 540.3 L1247.5 548.5 L1249.2 556.6 L1250.9 564.8 L1252.7 573.0 L1254.4 581.2 L1256.2 589.5 L1258.0 597.7 L1259.8 606.0 L1261.6 614.3 L1263.4 622.5 L1265.3 630.8 L1267.2 639.1 L1269.1 647.5 L1271.0 655.8 L1272.9 664.1 L1274.8 672.4 L1276.8 680.7 L1278.8 689.1 L1280.8 697.4 L1282.8 705.7 L1284.8 714.0 L1286.8 722.3 L1288.9 730.6 L1291.0 738.8 L1293.1 747.1 L1295.2 755.3 L1297.3 763.6 L1299.4 771.7 L1301.6 779.9 L1303.7 788.1 L1305.9 796.2 L1308.1 804.3 L1310.3 812.3 L1312.5 820.3 L1314.8 828.3 L1317.0 836.2 L1319.3 844.1 L1321.6 852.0 L1323.8 859.8 L1326.1 867.5 L1328.5 875.3 L1330.8 882.9 L1333.1 890.5 L1335.5 898.0 L1337.9 905.5 L1340.3 912.9 L1342.6 920.3 L1345.1 927.6 L1347.5 934.8 L1349.9 941.9 L1352.3 949.0 L1354.8 956.0 L1357.3 962.9 L1359.8 969.8 L1362.2 976.6 L1364.7 983.3 L1367.3 989.9 L1369.8 996.4 L1372.3 1002.9 L1374.9 1009.2 L1377.4 1015.5 L1380.0 1021.7 L1382.5 1027.8 L1385.1 1033.8 L1387.7 1039.7 L1390.3 1045.6 L1392.9 1051.3 L1395.6 1057.0 L1398.2 1062.6 L1400.8 1068.0 L1403.5 1073.4 L1406.1 1078.7 L1408.8 1083.9 L1411.5 1089.0 L1414.2 1094.1 L1416.9 1099.0 L1419.6 1103.8 L1422.3 1108.6 L1425.0 1113.3 L1427.7 1117.8 L1430.4 1122.3 L1433.2 1126.7 L1435.9 1131.0 L1438.6 1135.3 L1441.4 1139.4 L1444.2 1143.5 L1446.9 1147.4 L1449.7 1151.3 L1452.5 1155.1 L1455.3 1158.8 L1458.0 1162.5 L1460.8 1166.1 L1463.6 1169.5 L1466.4 1172.9 L1469.2 1176.3 L1472.1 1179.5 L1474.9 1182.7 L1477.7 1185.8 L1480.5 1188.8 L1483.4 1191.7 L1486.2 1194.6 L1489.0 1197.4 L1491.9 1200.1 L1494.7 1202.8 L1497.6 1205.3 L1500.4 1207.8 L1503.2 1210.3 L1506.1 1212.6 L1509.0 1214.9 L1511.8 1217.1 L1514.7 1219.2 L1517.5 1221.3 L1520.4 1223.3 L1523.3 1225.2 L1526.1 1227.0 L1529.0 1228.7 L1531.9 1230.4 L1534.7 1232.0 L1537.6 1233.5 L1540.5 1234.9 L1543.3 1236.3 L1546.2 1237.6 L1549.1 1238.7 L1551.9 1239.8 L1554.8 1240.8 L1557.7 1241.8 L1560.5 1242.6 L1563.4 1243.3 L1566.3 1244.0 L1569.1 1244.5 L1572.0 1245.0 L1574.8 1245.4 L1577.7 1245.6 L1580.6 1245.8 L1583.4 1245.9 L1586.2 1245.8 L1589.1 1245.7 L1591.9 1245.4 L1594.8 1245.0 L1597.6 1244.6 L1600.4 1244.0 L1603.3 1243.3 L1606.1 1242.5 L1608.9 1241.5 L1611.7 1240.5 L1614.6 1239.3 L1617.4 1238.1 L1620.2 1236.7 L1623.0 1235.1 L1625.8 1233.5 L1628.5 1231.7 L1631.3 1229.8 L1634.1 1227.8 L1636.9 1225.7 L1639.6 1223.4 L1642.4 1221.0 L1645.2 1218.5 L1647.9 1215.8 L1650.6 1213.1 L1653.4 1210.2 L1656.1 1207.1 L1658.8 1204.0 L1661.5 1200.7 L1664.2 1197.3 L1666.9 1193.8 L1669.6 1190.2 L1672.3 1186.5 L1675.0 1182.6 L1677.7 1178.6 L1680.3 1174.5 L1683.0 1170.3 L1685.6 1165.9 L1688.2 1161.5 L1690.9 1157.0 L1693.5 1152.3 L1696.1 1147.5 L1698.7 1142.7 L1701.3 1137.7 L1703.8 1132.6 L1706.4 1127.5 L1708.9 1122.2 L1711.5 1116.9 L1714.0 1111.5 L1716.5 1105.9 L1719.1 1100.3 L1721.6 1094.7 L1724.0 1088.9 L1726.5 1083.1 L1729.0 1077.1 L1731.5 1071.2 L1733.9 1065.1 L1736.3 1059.0 L1738.7 1052.8 L1741.2 1046.6 L1743.5 1040.2 L1745.9 1033.9 L1748.3 1027.5 L1750.7 1021.0 L1753.0 1014.5 L1755.3 1007.9 L1757.7 1001.3 L1760.0 994.6 L1762.2 987.9 L1764.5 981.1 L1766.8 974.3 L1769.0 967.5 L1771.3 960.6 L1773.5 953.7 L1775.7 946.7 L1777.9 939.7 L1780.1 932.6 L1782.2 925.6 L1784.4 918.5 L1786.5 911.3 L1788.6 904.1 L1790.7 896.9 L1792.8 889.6 L1794.9 882.3 L1797.0 875.0 L1799.0 867.6 L1801.0 860.2 L1803.0 852.7 L1805.0 845.2 L1807.0 837.7 L1809.0 830.1 L1810.9 822.5 L1812.8 814.8 L1814.7 807.1 L1816.6 799.3 L1818.5 791.5 L1820.4 783.7 L1822.2 775.8 L1824.0 767.8 L1825.8 759.8 L1827.6 751.7 L1829.4 743.6 L1831.1 735.4 L1832.9 727.2 L1834.6 718.9 L1836.3 710.5 L1838.0 702.1 L1839.6 693.6 L1841.3 685.1 L1842.9 676.5 L1844.5 667.8 L1846.1 659.1 L1847.7 650.3 L1849.2 641.5 L1850.7 632.6 L1852.3 623.6 L1853.7 614.6 L1855.2 605.5 L1856.7 596.4 L1858.1 587.2 L1859.5 578.0 L1860.9 568.7 L1862.3 559.4 L1863.6 550.0 L1865.0 540.6 L1866.3 531.1 L1867.6 521.6 L1868.9 512.1 L1870.1 502.6 L1871.4 493.0 L1872.6 483.4 L1873.8 473.8 L1874.9 464.2 L1876.1 454.6 L1877.2 444.9 L1878.3 435.3 L1879.4 425.7 L1880.5 416.2 L1881.5 406.6 L1882.6 397.1 L1883.6 387.6 L1884.6 378.2 L1885.5 368.8 L1886.5 359.5 L1887.4 350.2 L1888.3 341.1 L1889.2 332.0 L1890.0 323.0 L1890.8 314.1 L1891.7 305.3 L1892.5 296.6 L1893.2 288.1 L1894.0 279.6 L1894.7 271.4 L1895.4 263.2 L1896.1 255.3 L1896.7 247.5 L1897.4 239.8 L1898.0 232.4 L1898.6 225.1 L1899.2 218.1 L1899.7 211.2 L1900.2 204.6 L1900.7 198.2 L1901.2 192.0 L1901.7 186.0 L1902.1 180.3 L1902.5 174.9 L1902.9 169.7 L1903.3 164.7 L1903.7 160.1 L1904.0 155.7 L1904.3 151.5 L1904.6 147.7 L1904.8 144.1 L1905.1 140.9 L1905.3 137.9 L1905.5 135.3 L1905.6 132.9 L1905.8 130.9 L1905.9 129.2 L1906.0 127.7 L1906.1 126.6 L1906.2 125.8 L1906.2 125.4 L1906.2 125.2" fill="none" stroke="#1d2088" stroke-width="18.5" stroke-linejoin="round" />
<line x1="1182.0" y1="60.0" x2="1182.0" y2="1282.0" stroke="#231815" stroke-width="5" />
<line x1="1907.4" y1="68.0" x2="1907.4" y2="873.0" stroke="#231815" stroke-width="5" />
<line x1="1907.4" y1="940.0" x2="1907.4" y2="1283.5" stroke="#231815" stroke-width="4.6" />
<polygon points="1182.0,63.0 1182.0,63.0 1182.0,62.4 1194.0,62.4 1182.0,41.9 1170.0,62.4 1182.0,62.4" fill="#231815"/>
<polygon points="1907.4,70.0 1907.4,70.0 1907.4,69.7 1919.1,69.7 1907.4,48.3 1895.7,69.7 1907.4,69.7" fill="#231815"/>
<line x1="1182.0" y1="862.8" x2="1907.4" y2="862.8" stroke="#231815" stroke-width="3" />
<line x1="1182.0" y1="494.5" x2="1213.6" y2="494.5" stroke="#231815" stroke-width="5" />
<line x1="1182.0" y1="1238.1" x2="1215.6" y2="1238.1" stroke="#231815" stroke-width="5" />
<line x1="1548.0" y1="830.6" x2="1548.0" y2="862.8" stroke="#231815" stroke-width="4.7" />
<circle cx="1177.6" cy="124.1" r="17.6" fill="#fff100" stroke="#231815" stroke-width="5.3"/>
<circle cx="1906.2" cy="124.4" r="17.6" fill="#fff100" stroke="#231815" stroke-width="5.3"/>
<circle cx="1215.0" cy="467.6" r="17.6" fill="#fff100" stroke="#231815" stroke-width="5.3"/>
<circle cx="1283.0" cy="573.0" r="17.6" fill="#fff100" stroke="#231815" stroke-width="5.3"/>
<circle cx="1870.8" cy="554.8" r="17.6" fill="#fff100" stroke="#231815" stroke-width="5.3"/>
<circle cx="1326.3" cy="811.5" r="17.6" fill="#fff100" stroke="#231815" stroke-width="5.3"/>
<circle cx="1805.8" cy="906.4" r="17.6" fill="#fff100" stroke="#231815" stroke-width="5.3"/>
<circle cx="1432.3" cy="952.7" r="17.6" fill="#fff100" stroke="#231815" stroke-width="5.3"/>
<circle cx="1656.8" cy="958.5" r="17.6" fill="#fff100" stroke="#231815" stroke-width="5.3"/>
<circle cx="1353.5" cy="1001.6" r="17.6" fill="#fff100" stroke="#231815" stroke-width="5.3"/>
<circle cx="1548.6" cy="1025.9" r="17.6" fill="#fff100" stroke="#231815" stroke-width="5.3"/>
<circle cx="1780.4" cy="1025.9" r="17.6" fill="#fff100" stroke="#231815" stroke-width="5.3"/>
<text x="1209.4" y="104.0" font-size="78.3" font-family="'Liberation Serif','DejaVu Serif',serif" text-anchor="start" font-weight="normal" fill="#231815" >m</text>
<text x="1053.7" y="152.0" font-size="73.7" font-family="'Liberation Serif','DejaVu Serif',serif" text-anchor="start" font-weight="normal" fill="#231815" >1.0</text>
<text x="1067.4" y="513.8" font-size="74.0" font-family="'Liberation Serif','DejaVu Serif',serif" text-anchor="start" font-weight="normal" fill="#231815" >0.5</text>
<text x="1067.3" y="883.3" font-size="76.1" font-family="'Liberation Serif','DejaVu Serif',serif" text-anchor="start" font-weight="normal" fill="#231815" >0.0</text>
<text x="1046.9" y="1258.0" font-size="74.9" font-family="'Liberation Serif','DejaVu Serif',serif" text-anchor="start" font-weight="normal" fill="#231815" >-0.5</text>
<text x="1502.3" y="928.0" font-size="75.3" font-family="'Liberation Serif','DejaVu Serif',serif" text-anchor="start" font-weight="normal" fill="#231815" >0.5</text>
<text x="1859.9" y="932.8" font-size="73.8" font-family="'Liberation Serif','DejaVu Serif',serif" text-anchor="start" font-weight="normal" fill="#231815" >1.0</text>
<text x="1934.0" y="842.3" font-size="71.6" font-family="'Liberation Serif','DejaVu Serif',serif" text-anchor="start" font-weight="normal" fill="#231815" >x</text>
<text x="1483.1" y="772.0" font-size="77.9" font-family="'Liberation Serif','DejaVu Serif',serif" text-anchor="start" font-weight="normal" fill="#231815" >δ = -2</text>
<text x="1489.5" y="1174.0" font-size="75.4" font-family="'Liberation Serif','DejaVu Serif',serif" text-anchor="start" font-weight="normal" fill="#231815" >δ = -4</text>
<text x="1370.0" y="242.4" font-size="74.7" font-family="'Liberation Serif','DejaVu Serif',serif" text-anchor="start" font-weight="normal" fill="#231815" ><tspan font-size="74.7" dy="0.0">YFe</tspan><tspan font-size="42.6" dy="16.8">1-x</tspan><tspan font-size="74.7" dy="-16.8">Cr</tspan><tspan font-size="42.6" dy="16.8">x</tspan><tspan font-size="74.7" dy="-16.8">O</tspan><tspan font-size="42.6" dy="16.8">3</tspan></text>
</g>
<g id="panel-c">
<line x1="42.5" y1="2024.8" x2="940.8" y2="2024.8" stroke="#231815" stroke-width="1.6" />
<line x1="225.4" y1="2007.2" x2="225.4" y2="2024.8" stroke="#231815" stroke-width="4" />
<line x1="402.5" y1="2007.2" x2="402.5" y2="2024.8" stroke="#231815" stroke-width="4" />
<line x1="582.6" y1="2007.2" x2="582.6" y2="2024.8" stroke="#231815" stroke-width="4" />
<line x1="763.5" y1="2007.2" x2="763.5" y2="2024.8" stroke="#231815" stroke-width="4" />
<path d="M42.4 1574.0 L42.4 1574.0 L42.5 1574.0 L42.5 1574.1 L42.6 1574.1 L42.7 1574.2 L42.9 1574.3 L43.1 1574.4 L43.3 1574.5 L43.5 1574.7 L43.8 1574.8 L44.1 1575.0 L44.4 1575.2 L44.8 1575.4 L45.1 1575.7 L45.5 1575.9 L46.0 1576.2 L46.4 1576.4 L46.9 1576.7 L47.4 1577.0 L48.0 1577.4 L48.5 1577.7 L49.1 1578.1 L49.7 1578.4 L50.4 1578.8 L51.1 1579.2 L51.8 1579.6 L52.5 1580.1 L53.3 1580.5 L54.1 1581.0 L54.9 1581.5 L55.7 1582.0 L56.6 1582.5 L57.5 1583.0 L58.4 1583.6 L59.3 1584.1 L60.3 1584.7 L61.3 1585.3 L62.3 1585.9 L63.4 1586.5 L64.5 1587.2 L65.6 1587.8 L66.7 1588.5 L67.9 1589.2 L69.1 1589.9 L70.3 1590.6 L71.5 1591.4 L72.8 1592.1 L74.1 1592.9 L75.4 1593.7 L76.7 1594.5 L78.1 1595.3 L79.5 1596.2 L80.9 1597.0 L82.4 1597.9 L83.8 1598.8 L85.3 1599.8 L86.9 1600.7 L88.4 1601.7 L90.0 1602.6 L91.6 1603.6 L93.2 1604.7 L94.8 1605.7 L96.5 1606.8 L98.2 1607.9 L99.9 1609.0 L101.7 1610.1 L103.4 1611.3 L105.2 1612.5 L107.0 1613.7 L108.9 1614.9 L110.8 1616.2 L112.6 1617.4 L114.5 1618.7 L116.5 1620.1 L118.4 1621.4 L120.4 1622.8 L122.4 1624.2 L124.4 1625.6 L126.5 1627.1 L128.6 1628.6 L130.7 1630.1 L132.8 1631.6 L134.9 1633.2 L137.1 1634.7 L139.3 1636.4 L141.5 1638.0 L143.7 1639.7 L145.9 1641.3 L148.2 1643.1 L150.5 1644.8 L152.8 1646.6 L155.1 1648.4 L157.5 1650.2 L159.9 1652.1 L162.3 1653.9 L164.7 1655.8 L167.1 1657.8 L169.6 1659.7 L172.0 1661.7 L174.5 1663.7 L177.0 1665.7 L179.6 1667.8 L182.1 1669.9 L184.7 1672.0 L187.3 1674.1 L189.9 1676.2 L192.5 1678.4 L195.2 1680.6 L197.9 1682.8 L200.5 1685.0 L203.2 1687.3 L206.0 1689.6 L208.7 1691.9 L211.5 1694.2 L214.2 1696.5 L217.0 1698.9 L219.8 1701.3 L222.6 1703.7 L225.5 1706.1 L228.3 1708.5 L231.2 1711.0 L234.1 1713.5 L237.0 1716.0 L239.9 1718.5 L242.9 1721.0 L245.8 1723.5 L248.8 1726.1 L251.8 1728.7 L254.8 1731.3 L257.8 1733.9 L260.8 1736.5 L263.8 1739.2 L266.9 1741.8 L270.0 1744.5 L273.1 1747.2 L276.1 1749.9 L279.3 1752.6 L282.4 1755.4 L285.5 1758.2 L288.7 1760.9 L291.8 1763.7 L295.0 1766.6 L298.2 1769.4 L301.4 1772.3 L304.6 1775.1 L307.8 1778.0 L311.0 1781.0 L314.3 1783.9 L317.5 1786.9 L320.8 1789.9 L324.1 1792.9 L327.4 1795.9 L330.7 1799.0 L334.0 1802.0 L337.3 1805.1 L340.6 1808.3 L343.9 1811.4 L347.3 1814.6 L350.6 1817.8 L354.0 1821.1 L357.4 1824.4 L360.7 1827.7 L364.1 1831.0 L367.5 1834.4 L370.9 1837.8 L374.3 1841.2 L377.8 1844.7 L381.2 1848.2 L384.6 1851.7 L388.0 1855.3 L391.5 1858.9 L394.9 1862.5 L398.4 1866.2 L401.9 1869.9 L405.3 1873.6 L408.8 1877.4 L412.3 1881.2 L415.8 1885.1 L419.2 1889.0 L422.7 1893.0 L426.2 1896.9 L429.7 1900.9 L433.2 1905.0 L436.7 1909.1 L440.2 1913.2 L443.8 1917.4 L447.3 1921.6 L450.8 1925.9 L454.3 1930.1 L457.8 1934.4 L461.4 1938.8 L464.9 1943.2 L468.4 1947.6 L472.0 1952.1 L475.5 1956.6 L479.0 1961.1 L482.6 1965.6 L486.1 1970.2 L489.6 1974.8 L493.2 1979.5 L496.7 1984.1 L500.2 1988.8 L503.8 1993.5 L507.3 1998.2 L510.8 2003.0 L514.4 2007.8 L517.9 2012.5 L521.4 2017.3 L525.0 2022.1 L528.5 2027.0 L532.0 2031.8 L535.5 2036.6 L539.0 2041.5 L542.6 2046.3 L546.1 2051.2 L549.6 2056.0 L553.1 2060.8 L556.6 2065.7 L560.1 2070.5 L563.6 2075.3 L567.0 2080.1 L570.5 2084.9 L574.0 2089.7 L577.5 2094.4 L580.9 2099.1 L584.4 2103.8 L587.9 2108.5 L591.3 2113.1 L594.8 2117.8 L598.2 2122.3 L601.6 2126.9 L605.0 2131.4 L608.5 2135.8 L611.9 2140.2 L615.3 2144.6 L618.7 2148.9 L622.1 2153.2 L625.4 2157.4 L628.8 2161.6 L632.2 2165.7 L635.5 2169.8 L638.9 2173.8 L642.2 2177.7 L645.5 2181.6 L648.8 2185.4 L652.1 2189.1 L655.4 2192.7 L658.7 2196.3 L662.0 2199.9 L665.3 2203.3 L668.5 2206.7 L671.8 2210.0 L675.0 2213.2 L678.2 2216.3 L681.4 2219.4 L684.6 2222.3 L687.8 2225.2 L691.0 2228.0 L694.1 2230.7 L697.3 2233.4 L700.4 2235.9 L703.5 2238.3 L706.7 2240.7 L709.7 2243.0 L712.8 2245.2 L715.9 2247.3 L719.0 2249.3 L722.0 2251.2 L725.0 2253.0 L728.0 2254.7 L731.0 2256.4 L734.0 2257.9 L737.0 2259.3 L739.9 2260.7 L742.9 2262.0 L745.8 2263.1 L748.7 2264.2 L751.6 2265.2 L754.5 2266.1 L757.3 2266.8 L760.2 2267.5 L763.0 2268.1 L765.8 2268.7 L768.6 2269.1 L771.3 2269.4 L774.1 2269.6 L776.8 2269.8 L779.6 2269.8 L782.3 2269.8 L784.9 2269.6 L787.6 2269.4 L790.3 2269.1 L792.9 2268.7 L795.5 2268.2 L798.1 2267.6 L800.7 2266.9 L803.2 2266.2 L805.8 2265.3 L808.3 2264.4 L810.8 2263.4 L813.2 2262.3 L815.7 2261.1 L818.1 2259.8 L820.5 2258.5 L822.9 2257.0 L825.3 2255.5 L827.7 2253.9 L830.0 2252.3 L832.3 2250.5 L834.6 2248.7 L836.9 2246.8 L839.1 2244.8 L841.3 2242.7 L843.5 2240.6 L845.7 2238.4 L847.9 2236.1 L850.0 2233.8 L852.1 2231.3 L854.2 2228.9 L856.3 2226.3 L858.4 2223.7 L860.4 2221.0 L862.4 2218.3 L864.4 2215.5 L866.3 2212.6 L868.3 2209.7 L870.2 2206.7 L872.0 2203.7 L873.9 2200.6 L875.8 2197.5 L877.6 2194.3 L879.4 2191.1 L881.1 2187.8 L882.9 2184.5 L884.6 2181.2 L886.3 2177.8 L888.0 2174.4 L889.6 2170.9 L891.2 2167.4 L892.8 2163.9 L894.4 2160.4 L895.9 2156.8 L897.5 2153.2 L899.0 2149.6 L900.4 2146.0 L901.9 2142.4 L903.3 2138.8 L904.7 2135.1 L906.1 2131.5 L907.4 2127.9 L908.7 2124.2 L910.0 2120.6 L911.3 2117.0 L912.5 2113.4 L913.7 2109.8 L914.9 2106.2 L916.1 2102.7 L917.2 2099.1 L918.3 2095.6 L919.4 2092.2 L920.5 2088.8 L921.5 2085.4 L922.5 2082.0 L923.5 2078.7 L924.4 2075.5 L925.3 2072.3 L926.2 2069.1 L927.1 2066.0 L927.9 2063.0 L928.7 2060.1 L929.5 2057.2 L930.3 2054.4 L931.0 2051.6 L931.7 2048.9 L932.4 2046.3 L933.1 2043.8 L933.7 2041.4 L934.3 2039.1 L934.8 2036.8 L935.4 2034.7 L935.9 2032.6 L936.4 2030.7 L936.8 2028.8 L937.3 2027.0 L937.7 2025.4 L938.0 2023.8 L938.4 2022.4 L938.7 2021.1 L939.0 2019.8 L939.3 2018.7 L939.5 2017.7 L939.7 2016.9 L939.9 2016.1 L940.1 2015.4 L940.2 2014.9 L940.3 2014.5 L940.3 2014.2 L940.4 2014.0 L940.4 2014.0" fill="none" stroke="#231815" stroke-width="8.8" stroke-linejoin="round" />
<path d="M42.4 2025.6 L42.4 2025.6 L42.5 2025.7 L42.5 2025.9 L42.6 2026.2 L42.7 2026.5 L42.9 2026.9 L43.1 2027.3 L43.3 2027.8 L43.5 2028.4 L43.8 2029.1 L44.1 2029.8 L44.4 2030.6 L44.8 2031.5 L45.1 2032.4 L45.5 2033.4 L46.0 2034.5 L46.4 2035.6 L46.9 2036.8 L47.4 2038.1 L48.0 2039.4 L48.5 2040.8 L49.1 2042.3 L49.7 2043.8 L50.4 2045.4 L51.1 2047.0 L51.8 2048.7 L52.5 2050.5 L53.3 2052.3 L54.1 2054.2 L54.9 2056.2 L55.7 2058.1 L56.6 2060.2 L57.5 2062.3 L58.4 2064.5 L59.3 2066.7 L60.3 2069.0 L61.3 2071.3 L62.3 2073.7 L63.4 2076.1 L64.5 2078.5 L65.6 2081.1 L66.7 2083.6 L67.9 2086.2 L69.1 2088.9 L70.3 2091.6 L71.5 2094.3 L72.8 2097.1 L74.1 2099.9 L75.4 2102.8 L76.7 2105.7 L78.1 2108.6 L79.5 2111.6 L80.9 2114.6 L82.4 2117.6 L83.8 2120.7 L85.3 2123.8 L86.9 2126.9 L88.4 2130.1 L90.0 2133.3 L91.6 2136.5 L93.2 2139.7 L94.8 2143.0 L96.5 2146.2 L98.2 2149.5 L99.9 2152.9 L101.7 2156.2 L103.4 2159.5 L105.2 2162.9 L107.0 2166.3 L108.9 2169.7 L110.8 2173.1 L112.6 2176.5 L114.5 2179.9 L116.5 2183.4 L118.4 2186.8 L120.4 2190.3 L122.4 2193.7 L124.4 2197.2 L126.5 2200.6 L128.6 2204.1 L130.7 2207.5 L132.8 2211.0 L134.9 2214.4 L137.1 2217.9 L139.3 2221.3 L141.5 2224.7 L143.7 2228.1 L145.9 2231.5 L148.2 2234.9 L150.5 2238.3 L152.8 2241.7 L155.1 2245.0 L157.5 2248.4 L159.9 2251.7 L162.3 2255.0 L164.7 2258.3 L167.1 2261.5 L169.6 2264.7 L172.0 2267.9 L174.5 2271.1 L177.0 2274.3 L179.6 2277.4 L182.1 2280.5 L184.7 2283.6 L187.3 2286.6 L189.9 2289.6 L192.5 2292.5 L195.2 2295.5 L197.9 2298.4 L200.5 2301.2 L203.2 2304.0 L206.0 2306.8 L208.7 2309.5 L211.5 2312.2 L214.2 2314.8 L217.0 2317.4 L219.8 2320.0 L222.6 2322.5 L225.5 2324.9 L228.3 2327.3 L231.2 2329.7 L234.1 2332.0 L237.0 2334.2 L239.9 2336.4 L242.9 2338.5 L245.8 2340.6 L248.8 2342.6 L251.8 2344.5 L254.8 2346.4 L257.8 2348.2 L260.8 2350.0 L263.8 2351.7 L266.9 2353.3 L270.0 2354.9 L273.1 2356.4 L276.1 2357.8 L279.3 2359.2 L282.4 2360.5 L285.5 2361.7 L288.7 2362.9 L291.8 2364.0 L295.0 2365.0 L298.2 2365.9 L301.4 2366.7 L304.6 2367.5 L307.8 2368.2 L311.0 2368.8 L314.3 2369.4 L317.5 2369.8 L320.8 2370.2 L324.1 2370.5 L327.4 2370.7 L330.7 2370.9 L334.0 2370.9 L337.3 2370.9 L340.6 2370.8 L343.9 2370.5 L347.3 2370.3 L350.6 2369.9 L354.0 2369.4 L357.4 2368.9 L360.7 2368.2 L364.1 2367.5 L367.5 2366.7 L370.9 2365.8 L374.3 2364.8 L377.8 2363.7 L381.2 2362.5 L384.6 2361.3 L388.0 2359.9 L391.5 2358.5 L394.9 2356.9 L398.4 2355.3 L401.9 2353.6 L405.3 2351.8 L408.8 2349.9 L412.3 2347.9 L415.8 2345.8 L419.2 2343.7 L422.7 2341.4 L426.2 2339.1 L429.7 2336.6 L433.2 2334.1 L436.7 2331.5 L440.2 2328.8 L443.8 2326.0 L447.3 2323.1 L450.8 2320.2 L454.3 2317.1 L457.8 2314.0 L461.4 2310.8 L464.9 2307.4 L468.4 2304.1 L472.0 2300.6 L475.5 2297.0 L479.0 2293.4 L482.6 2289.7 L486.1 2285.9 L489.6 2282.0 L493.2 2278.0 L496.7 2274.0 L500.2 2269.9 L503.8 2265.7 L507.3 2261.5 L510.8 2257.2 L514.4 2252.8 L517.9 2248.3 L521.4 2243.7 L525.0 2239.1 L528.5 2234.5 L532.0 2229.7 L535.5 2224.9 L539.0 2220.1 L542.6 2215.2 L546.1 2210.2 L549.6 2205.1 L553.1 2200.1 L556.6 2194.9 L560.1 2189.7 L563.6 2184.5 L567.0 2179.2 L570.5 2173.8 L574.0 2168.4 L577.5 2163.0 L580.9 2157.5 L584.4 2152.0 L587.9 2146.4 L591.3 2140.8 L594.8 2135.2 L598.2 2129.5 L601.6 2123.8 L605.0 2118.1 L608.5 2112.3 L611.9 2106.5 L615.3 2100.7 L618.7 2094.9 L622.1 2089.0 L625.4 2083.1 L628.8 2077.2 L632.2 2071.3 L635.5 2065.4 L638.9 2059.5 L642.2 2053.5 L645.5 2047.6 L648.8 2041.6 L652.1 2035.6 L655.4 2029.7 L658.7 2023.7 L662.0 2017.7 L665.3 2011.7 L668.5 2005.8 L671.8 1999.8 L675.0 1993.9 L678.2 1987.9 L681.4 1982.0 L684.6 1976.0 L687.8 1970.1 L691.0 1964.2 L694.1 1958.4 L697.3 1952.5 L700.4 1946.7 L703.5 1940.8 L706.7 1935.0 L709.7 1929.3 L712.8 1923.5 L715.9 1917.8 L719.0 1912.1 L722.0 1906.5 L725.0 1900.8 L728.0 1895.2 L731.0 1889.7 L734.0 1884.2 L737.0 1878.7 L739.9 1873.2 L742.9 1867.8 L745.8 1862.4 L748.7 1857.1 L751.6 1851.8 L754.5 1846.6 L757.3 1841.4 L760.2 1836.2 L763.0 1831.1 L765.8 1826.0 L768.6 1821.0 L771.3 1816.0 L774.1 1811.1 L776.8 1806.3 L779.6 1801.4 L782.3 1796.7 L784.9 1791.9 L787.6 1787.3 L790.3 1782.7 L792.9 1778.1 L795.5 1773.6 L798.1 1769.1 L800.7 1764.7 L803.2 1760.4 L805.8 1756.1 L808.3 1751.9 L810.8 1747.7 L813.2 1743.6 L815.7 1739.5 L818.1 1735.5 L820.5 1731.6 L822.9 1727.7 L825.3 1723.8 L827.7 1720.0 L830.0 1716.3 L832.3 1712.6 L834.6 1709.0 L836.9 1705.5 L839.1 1702.0 L841.3 1698.5 L843.5 1695.1 L845.7 1691.8 L847.9 1688.5 L850.0 1685.3 L852.1 1682.2 L854.2 1679.1 L856.3 1676.0 L858.4 1673.0 L860.4 1670.1 L862.4 1667.2 L864.4 1664.4 L866.3 1661.6 L868.3 1658.8 L870.2 1656.2 L872.0 1653.6 L873.9 1651.0 L875.8 1648.5 L877.6 1646.0 L879.4 1643.6 L881.1 1641.2 L882.9 1638.9 L884.6 1636.6 L886.3 1634.4 L888.0 1632.3 L889.6 1630.1 L891.2 1628.1 L892.8 1626.0 L894.4 1624.1 L895.9 1622.1 L897.5 1620.2 L899.0 1618.4 L900.4 1616.6 L901.9 1614.9 L903.3 1613.1 L904.7 1611.5 L906.1 1609.8 L907.4 1608.3 L908.7 1606.7 L910.0 1605.2 L911.3 1603.8 L912.5 1602.3 L913.7 1601.0 L914.9 1599.6 L916.1 1598.3 L917.2 1597.1 L918.3 1595.8 L919.4 1594.6 L920.5 1593.5 L921.5 1592.4 L922.5 1591.3 L923.5 1590.2 L924.4 1589.2 L925.3 1588.2 L926.2 1587.3 L927.1 1586.4 L927.9 1585.5 L928.7 1584.7 L929.5 1583.8 L930.3 1583.1 L931.0 1582.3 L931.7 1581.6 L932.4 1580.9 L933.1 1580.2 L933.7 1579.6 L934.3 1579.0 L934.8 1578.5 L935.4 1577.9 L935.9 1577.4 L936.4 1576.9 L936.8 1576.5 L937.3 1576.1 L937.7 1575.7 L938.0 1575.3 L938.4 1575.0 L938.7 1574.6 L939.0 1574.4 L939.3 1574.1 L939.5 1573.9 L939.7 1573.7 L939.9 1573.5 L940.1 1573.4 L940.2 1573.2 L940.3 1573.1 L940.3 1573.1 L940.4 1573.0 L940.4 1573.0" fill="none" stroke="#231815" stroke-width="8.8" stroke-linejoin="round" />
<path d="M41.6 1575.0 L41.6 1575.0 L41.7 1575.1 L41.7 1575.3 L41.8 1575.5 L41.9 1575.8 L42.1 1576.1 L42.3 1576.5 L42.5 1577.0 L42.7 1577.5 L43.0 1578.1 L43.3 1578.8 L43.6 1579.5 L44.0 1580.3 L44.3 1581.2 L44.7 1582.1 L45.2 1583.1 L45.6 1584.2 L46.1 1585.4 L46.6 1586.6 L47.2 1587.9 L47.7 1589.2 L48.3 1590.7 L48.9 1592.2 L49.6 1593.7 L50.3 1595.4 L51.0 1597.1 L51.7 1599.0 L52.5 1600.8 L53.3 1602.8 L54.1 1604.9 L54.9 1607.0 L55.8 1609.2 L56.7 1611.5 L57.6 1613.9 L58.5 1616.3 L59.5 1618.9 L60.5 1621.5 L61.6 1624.2 L62.6 1627.0 L63.7 1629.9 L64.8 1632.8 L65.9 1635.9 L67.1 1639.0 L68.3 1642.2 L69.5 1645.5 L70.7 1648.9 L72.0 1652.4 L73.3 1655.9 L74.6 1659.5 L76.0 1663.2 L77.3 1667.0 L78.7 1670.9 L80.1 1674.8 L81.6 1678.9 L83.1 1682.9 L84.6 1687.1 L86.1 1691.3 L87.6 1695.7 L89.2 1700.0 L90.8 1704.5 L92.4 1709.0 L94.1 1713.6 L95.7 1718.2 L97.4 1722.9 L99.2 1727.7 L100.9 1732.5 L102.7 1737.3 L104.5 1742.2 L106.3 1747.2 L108.1 1752.2 L110.0 1757.3 L111.9 1762.4 L113.8 1767.5 L115.7 1772.7 L117.7 1777.9 L119.7 1783.2 L121.7 1788.5 L123.7 1793.8 L125.7 1799.1 L127.8 1804.5 L129.9 1809.9 L132.0 1815.3 L134.2 1820.7 L136.3 1826.1 L138.5 1831.5 L140.7 1837.0 L142.9 1842.5 L145.2 1847.9 L147.5 1853.4 L149.7 1858.9 L152.1 1864.4 L154.4 1869.8 L156.7 1875.3 L159.1 1880.8 L161.5 1886.2 L163.9 1891.7 L166.4 1897.1 L168.8 1902.5 L171.3 1907.9 L173.8 1913.3 L176.3 1918.7 L178.8 1924.1 L181.4 1929.4 L184.0 1934.7 L186.6 1940.0 L189.2 1945.3 L191.8 1950.5 L194.5 1955.8 L197.1 1961.0 L199.8 1966.1 L202.5 1971.3 L205.2 1976.4 L208.0 1981.5 L210.7 1986.5 L213.5 1991.6 L216.3 1996.6 L219.1 2001.5 L221.9 2006.5 L224.8 2011.4 L227.6 2016.2 L230.5 2021.1 L233.4 2025.9 L236.3 2030.6 L239.2 2035.4 L242.2 2040.0 L245.1 2044.7 L248.1 2049.3 L251.1 2053.9 L254.1 2058.4 L257.1 2062.9 L260.1 2067.4 L263.1 2071.8 L266.2 2076.2 L269.3 2080.5 L272.4 2084.8 L275.5 2089.1 L278.6 2093.3 L281.7 2097.5 L284.8 2101.6 L288.0 2105.7 L291.1 2109.7 L294.3 2113.7 L297.5 2117.6 L300.7 2121.5 L303.9 2125.3 L307.1 2129.1 L310.4 2132.8 L313.6 2136.5 L316.9 2140.1 L320.1 2143.7 L323.4 2147.2 L326.7 2150.7 L330.0 2154.1 L333.3 2157.4 L336.6 2160.6 L339.9 2163.9 L343.3 2167.0 L346.6 2170.1 L350.0 2173.1 L353.3 2176.0 L356.7 2178.9 L360.1 2181.7 L363.5 2184.4 L366.9 2187.1 L370.3 2189.7 L373.7 2192.2 L377.1 2194.6 L380.5 2197.0 L384.0 2199.3 L387.4 2201.5 L390.8 2203.6 L394.3 2205.7 L397.8 2207.6 L401.2 2209.5 L404.7 2211.4 L408.2 2213.1 L411.6 2214.7 L415.1 2216.3 L418.6 2217.8 L422.1 2219.2 L425.6 2220.6 L429.1 2221.8 L432.6 2223.0 L436.1 2224.1 L439.6 2225.1 L443.1 2226.0 L446.7 2226.9 L450.2 2227.6 L453.7 2228.3 L457.2 2228.9 L460.8 2229.5 L464.3 2230.0 L467.8 2230.4 L471.4 2230.7 L474.9 2231.0 L478.4 2231.2 L482.0 2231.3 L485.5 2231.3 L489.0 2231.3 L492.6 2231.3 L496.1 2231.1 L499.6 2230.9 L503.2 2230.7 L506.7 2230.4 L510.2 2230.0 L513.8 2229.6 L517.3 2229.2 L520.8 2228.7 L524.4 2228.1 L527.9 2227.5 L531.4 2226.9 L534.9 2226.2 L538.5 2225.5 L542.0 2224.8 L545.5 2224.0 L549.0 2223.2 L552.5 2222.3 L556.0 2221.4 L559.5 2220.5 L563.0 2219.6 L566.5 2218.6 L570.0 2217.7 L573.4 2216.7 L576.9 2215.6 L580.4 2214.6 L583.8 2213.5 L587.3 2212.4 L590.8 2211.3 L594.2 2210.2 L597.6 2209.0 L601.1 2207.9 L604.5 2206.7 L607.9 2205.5 L611.3 2204.3 L614.7 2203.0 L618.1 2201.8 L621.5 2200.5 L624.9 2199.2 L628.3 2197.9 L631.6 2196.5 L635.0 2195.2 L638.3 2193.8 L641.7 2192.4 L645.0 2190.9 L648.3 2189.5 L651.6 2187.9 L654.9 2186.4 L658.2 2184.8 L661.5 2183.2 L664.7 2181.6 L668.0 2179.9 L671.2 2178.2 L674.5 2176.4 L677.7 2174.5 L680.9 2172.7 L684.1 2170.7 L687.3 2168.7 L690.5 2166.7 L693.6 2164.5 L696.8 2162.4 L699.9 2160.1 L703.0 2157.8 L706.1 2155.4 L709.2 2152.9 L712.3 2150.3 L715.4 2147.7 L718.5 2145.0 L721.5 2142.2 L724.5 2139.3 L727.5 2136.3 L730.5 2133.2 L733.5 2130.0 L736.5 2126.7 L739.4 2123.3 L742.4 2119.8 L745.3 2116.2 L748.2 2112.5 L751.1 2108.7 L754.0 2104.8 L756.8 2100.8 L759.7 2096.7 L762.5 2092.4 L765.3 2088.1 L768.1 2083.6 L770.9 2079.0 L773.6 2074.3 L776.4 2069.5 L779.1 2064.6 L781.8 2059.6 L784.5 2054.4 L787.1 2049.2 L789.8 2043.8 L792.4 2038.4 L795.0 2032.8 L797.6 2027.1 L800.2 2021.4 L802.8 2015.5 L805.3 2009.6 L807.8 2003.5 L810.3 1997.4 L812.8 1991.2 L815.2 1984.9 L817.7 1978.5 L820.1 1972.1 L822.5 1965.5 L824.9 1958.9 L827.2 1952.3 L829.5 1945.6 L831.9 1938.8 L834.1 1932.0 L836.4 1925.2 L838.7 1918.3 L840.9 1911.3 L843.1 1904.4 L845.3 1897.4 L847.4 1890.4 L849.6 1883.4 L851.7 1876.4 L853.8 1869.4 L855.9 1862.3 L857.9 1855.3 L859.9 1848.3 L861.9 1841.4 L863.9 1834.4 L865.9 1827.5 L867.8 1820.6 L869.7 1813.7 L871.6 1806.9 L873.5 1800.2 L875.3 1793.4 L877.1 1786.8 L878.9 1780.2 L880.7 1773.7 L882.4 1767.2 L884.2 1760.9 L885.9 1754.6 L887.5 1748.4 L889.2 1742.2 L890.8 1736.2 L892.4 1730.3 L894.0 1724.4 L895.5 1718.7 L897.0 1713.1 L898.5 1707.5 L900.0 1702.1 L901.5 1696.8 L902.9 1691.6 L904.3 1686.5 L905.6 1681.6 L907.0 1676.7 L908.3 1672.0 L909.6 1667.4 L910.9 1662.9 L912.1 1658.5 L913.3 1654.3 L914.5 1650.1 L915.7 1646.1 L916.8 1642.3 L917.9 1638.5 L919.0 1634.9 L920.0 1631.3 L921.1 1627.9 L922.1 1624.7 L923.1 1621.5 L924.0 1618.5 L924.9 1615.5 L925.8 1612.7 L926.7 1610.0 L927.5 1607.4 L928.3 1604.9 L929.1 1602.6 L929.9 1600.3 L930.6 1598.2 L931.3 1596.1 L932.0 1594.1 L932.7 1592.3 L933.3 1590.5 L933.9 1588.8 L934.4 1587.3 L935.0 1585.8 L935.5 1584.4 L936.0 1583.1 L936.4 1581.9 L936.9 1580.7 L937.3 1579.7 L937.6 1578.7 L938.0 1577.8 L938.3 1577.0 L938.6 1576.2 L938.9 1575.6 L939.1 1575.0 L939.3 1574.4 L939.5 1574.0 L939.7 1573.6 L939.8 1573.3 L939.9 1573.1 L939.9 1572.9 L940.0 1572.8 L940.0 1572.8" fill="none" stroke="#231815" stroke-width="8" stroke-linejoin="round" stroke-dasharray="42 6.3" stroke-dashoffset="9"/>
<line x1="42.5" y1="1465.0" x2="42.5" y2="2395.6" stroke="#231815" stroke-width="4.6" />
<line x1="940.8" y1="1465.0" x2="940.8" y2="2395.6" stroke="#231815" stroke-width="4.6" />
<polygon points="42.5,1467.0 42.5,1467.0 42.5,1466.7 53.9,1466.7 42.5,1446.3 31.1,1466.7 42.5,1466.7" fill="#231815"/>
<polygon points="940.8,1467.0 940.8,1467.0 940.8,1466.7 952.0,1466.7 940.8,1446.3 929.6,1466.7 940.8,1466.7" fill="#231815"/>
<text x="66.3" y="1508.9" font-size="48.0" font-family="'Liberation Serif','DejaVu Serif',serif" text-anchor="start" font-weight="normal" fill="#231815" >m, arb.unit</text>
<text x="256.7" y="1711.8" font-size="71.9" font-family="'Liberation Serif','DejaVu Serif',serif" text-anchor="start" font-weight="normal" fill="#231815" ><tspan font-size="71.9" dy="0.0">m</tspan><tspan font-size="41.0" dy="16.9">Fe</tspan></text>
<text x="692.3" y="1720.8" font-size="71.7" font-family="'Liberation Serif','DejaVu Serif',serif" text-anchor="start" font-weight="normal" fill="#231815" ><tspan font-size="71.7" dy="0.0">m</tspan><tspan font-size="40.9" dy="16.9">Cr</tspan></text>
<text x="406.9" y="2182.3" font-size="72.3" font-family="'Liberation Serif','DejaVu Serif',serif" text-anchor="start" font-weight="normal" fill="#231815" ><tspan font-size="72.3" dy="0.0">m</tspan><tspan font-size="41.2" dy="17.0">tot</tspan></text>
<text x="202.2" y="2074.0" font-size="47.5" font-family="'Liberation Serif','DejaVu Serif',serif" text-anchor="start" font-weight="normal" fill="#231815" >0.2</text>
<text x="374.4" y="2074.0" font-size="46.5" font-family="'Liberation Serif','DejaVu Serif',serif" text-anchor="start" font-weight="normal" fill="#231815" >0.4</text>
<text x="556.7" y="2070.4" font-size="46.6" font-family="'Liberation Serif','DejaVu Serif',serif" text-anchor="start" font-weight="normal" fill="#231815" >0.6</text>
<text x="734.7" y="2074.0" font-size="47.9" font-family="'Liberation Serif','DejaVu Serif',serif" text-anchor="start" font-weight="normal" fill="#231815" >0.8</text>
<text x="897.5" y="2005.2" font-size="70.4" font-family="'Liberation Serif','DejaVu Serif',serif" text-anchor="start" font-weight="normal" fill="#231815" >x</text>
</g>
<g id="panel-d">
<path d="M1257.8 2183.6 L1259.8 2183.6 L1261.8 2183.5 L1263.8 2183.5 L1265.9 2183.5 L1267.9 2183.4 L1269.9 2183.4 L1271.9 2183.4 L1273.9 2183.3 L1275.9 2183.2 L1277.9 2183.2 L1279.9 2183.1 L1281.9 2183.0 L1283.9 2182.9 L1285.9 2182.8 L1287.8 2182.6 L1289.8 2182.5 L1291.8 2182.3 L1293.8 2182.1 L1295.8 2181.9 L1297.7 2181.6 L1299.7 2181.3 L1301.7 2181.0 L1303.6 2180.7 L1305.6 2180.3 L1307.5 2179.9 L1309.5 2179.5 L1311.4 2179.0 L1313.4 2178.5 L1315.3 2178.0 L1317.2 2177.5 L1319.1 2176.9 L1321.1 2176.4 L1323.0 2175.8 L1324.9 2175.1 L1326.8 2174.5 L1328.7 2173.9 L1330.6 2173.2 L1332.5 2172.5 L1334.4 2171.8 L1336.3 2171.1 L1338.2 2170.4 L1340.0 2169.7 L1341.9 2168.9 L1343.8 2168.2 L1345.6 2167.4 L1347.5 2166.6 L1349.4 2165.8 L1351.2 2165.0 L1353.0 2164.2 L1354.9 2163.4 L1356.7 2162.5 L1358.5 2161.7 L1360.3 2160.8 L1362.1 2159.9 L1363.9 2159.0 L1365.7 2158.1 L1367.5 2157.2 L1369.3 2156.3 L1371.0 2155.3 L1372.8 2154.3 L1374.5 2153.4 L1376.3 2152.4 L1378.0 2151.4 L1379.7 2150.3 L1381.4 2149.3 L1383.1 2148.2 L1384.8 2147.2 L1386.5 2146.1 L1388.1 2145.0 L1389.8 2143.9 L1391.4 2142.7 L1393.1 2141.6 L1394.7 2140.4 L1396.3 2139.3 L1397.9 2138.1 L1399.5 2136.9 L1401.1 2135.6 L1402.7 2134.4 L1404.2 2133.1 L1405.8 2131.9 L1407.3 2130.6 L1408.9 2129.3 L1410.4 2128.0 L1411.9 2126.6 L1413.4 2125.3 L1414.9 2123.9 L1416.4 2122.6 L1417.9 2121.2 L1419.3 2119.8 L1420.8 2118.4 L1422.2 2117.0 L1423.6 2115.6 L1425.0 2114.2 L1426.4 2112.8 L1427.8 2111.3 L1429.2 2109.9 L1430.6 2108.4 L1431.9 2107.0 L1433.3 2105.5 L1434.6 2104.0 L1435.9 2102.5 L1437.2 2101.0 L1438.5 2099.5 L1439.7 2098.0 L1441.0 2096.4 L1442.3 2094.9 L1443.5 2093.3 L1444.7 2091.7 L1446.0 2090.2 L1447.2 2088.6 L1448.4 2087.0 L1449.6 2085.4 L1450.8 2083.8 L1451.9 2082.2 L1453.1 2080.5 L1454.3 2078.9 L1455.4 2077.3 L1456.6 2075.6 L1457.7 2074.0 L1458.9 2072.3 L1460.0 2070.7 L1461.2 2069.0 L1462.3 2067.3 L1463.4 2065.7 L1464.6 2064.0 L1465.7 2062.3 L1466.8 2060.7 L1467.9 2059.0 L1469.1 2057.3 L1470.2 2055.6 L1471.3 2054.0 L1472.5 2052.3 L1473.6 2050.6 L1474.7 2049.0 L1475.9 2047.3 L1477.0 2045.7 L1478.2 2044.0 L1479.3 2042.3 L1480.5 2040.7 L1481.6 2039.0 L1482.8 2037.4 L1483.9 2035.7 L1485.1 2034.1 L1486.2 2032.5 L1487.4 2030.8 L1488.5 2029.2 L1489.7 2027.5 L1490.8 2025.9 L1492.0 2024.3 L1493.1 2022.6 L1494.3 2021.0 L1495.5 2019.3 L1496.6 2017.7 L1497.8 2016.1 L1498.9 2014.4 L1500.1 2012.8 L1501.3 2011.2 L1502.4 2009.5 L1503.6 2007.9 L1504.7 2006.3 L1505.9 2004.6 L1507.1 2003.0 L1508.2 2001.3 L1509.4 1999.7 L1510.5 1998.1 L1511.7 1996.4 L1512.9 1994.8 L1514.0 1993.2 L1515.2 1991.5 L1516.3 1989.9 L1517.5 1988.3 L1518.7 1986.6 L1519.8 1985.0 L1521.0 1983.4 L1522.2 1981.7 L1523.3 1980.1 L1524.5 1978.5 L1525.7 1976.9 L1526.8 1975.2 L1528.0 1973.6 L1529.2 1972.0 L1530.3 1970.3 L1531.5 1968.7 L1532.7 1967.1 L1533.9 1965.5 L1535.0 1963.8 L1536.2 1962.2 L1537.4 1960.6 L1538.6 1959.0 L1539.8 1957.4 L1540.9 1955.7 L1542.1 1954.1 L1543.3 1952.5 L1544.5 1950.9 L1545.7 1949.2 L1546.8 1947.6 L1548.0 1946.0 L1549.2 1944.4 L1550.4 1942.8 L1551.6 1941.1 L1552.8 1939.5 L1553.9 1937.9 L1555.1 1936.3 L1556.3 1934.7 L1557.5 1933.1 L1558.7 1931.4 L1559.9 1929.8 L1561.1 1928.2 L1562.3 1926.6 L1563.5 1925.0 L1564.7 1923.4 L1565.9 1921.8 L1567.1 1920.2 L1568.3 1918.6 L1569.5 1917.0 L1570.7 1915.4 L1571.9 1913.8 L1573.1 1912.2 L1574.3 1910.6 L1575.5 1909.0 L1576.8 1907.4 L1578.0 1905.8 L1579.2 1904.2 L1580.5 1902.7 L1581.7 1901.1 L1582.9 1899.5 L1584.2 1897.9 L1585.4 1896.4 L1586.7 1894.8 L1587.9 1893.2 L1589.2 1891.7 L1590.4 1890.1 L1591.7 1888.6 L1593.0 1887.0 L1594.3 1885.5 L1595.5 1883.9 L1596.8 1882.4 L1598.1 1880.8 L1599.4 1879.3 L1600.7 1877.8 L1602.0 1876.3 L1603.3 1874.7 L1604.6 1873.2 L1605.9 1871.7 L1607.3 1870.2 L1608.6 1868.7 L1609.9 1867.2 L1611.3 1865.7 L1612.6 1864.2 L1614.0 1862.7 L1615.3 1861.2 L1616.7 1859.8 L1618.1 1858.3 L1619.4 1856.8 L1620.8 1855.4 L1622.2 1853.9 L1623.6 1852.5 L1625.0 1851.1 L1626.4 1849.6 L1627.8 1848.2 L1629.3 1846.8 L1630.7 1845.4 L1632.1 1844.0 L1633.6 1842.6 L1635.0 1841.2 L1636.5 1839.8 L1638.0 1838.4 L1639.5 1837.1 L1641.0 1835.8 L1642.5 1834.5 L1644.0 1833.2 L1645.5 1831.9 L1647.1 1830.6 L1648.7 1829.4 L1650.2 1828.2 L1651.8 1827.0 L1653.4 1825.8 L1655.1 1824.7 L1656.7 1823.6 L1658.4 1822.5 L1660.1 1821.4 L1661.8 1820.4 L1663.5 1819.4 L1665.2 1818.5 L1667.0 1817.6 L1668.7 1816.7 L1670.5 1815.8 L1672.3 1815.0 L1674.1 1814.3 L1676.0 1813.6 L1677.8 1812.9 L1679.7 1812.3 L1681.5 1811.7 L1683.4 1811.2 L1685.3 1810.7 L1687.2 1810.4 L1689.1 1810.0 L1691.0 1809.8 L1692.9 1809.6 L1694.9 1809.5 L1696.8 1809.4 L1698.7 1809.5 L1700.6 1809.6 L1702.5 1809.7 L1704.4 1810.0 L1706.3 1810.3 L1708.2 1810.7 L1710.0 1811.2 L1711.9 1811.7 L1713.7 1812.3 L1715.6 1812.9 L1717.4 1813.6 L1719.2 1814.4 L1721.0 1815.2 L1722.8 1816.1 L1724.5 1817.0 L1726.3 1817.9 L1728.0 1818.9 L1729.7 1819.8 L1731.5 1820.9 L1733.2 1821.9 L1734.9 1822.9" fill="none" stroke="#e60012" stroke-width="21.5" stroke-linejoin="round" />
<line x1="1224.2" y1="1853.0" x2="1939.5" y2="1853.0" stroke="#231815" stroke-width="6.4" />
<line x1="1403.3" y1="1853.0" x2="1403.3" y2="1887.2" stroke="#231815" stroke-width="5.2" />
<line x1="1585.7" y1="1853.0" x2="1585.7" y2="1887.2" stroke="#231815" stroke-width="5.2" />
<line x1="1762.4" y1="1853.0" x2="1762.4" y2="1887.2" stroke="#231815" stroke-width="5.2" />
<path d="M1228.0 2141.3 L1230.0 2141.1 L1232.0 2141.0 L1234.1 2140.8 L1236.1 2140.7 L1238.1 2140.5 L1240.1 2140.3 L1242.1 2140.1 L1244.1 2139.9 L1246.1 2139.7 L1248.1 2139.5 L1250.1 2139.2 L1252.1 2139.0 L1254.1 2138.7 L1256.1 2138.5 L1258.1 2138.2 L1260.0 2137.9 L1262.0 2137.6 L1264.0 2137.2 L1266.0 2136.9 L1267.9 2136.6 L1269.9 2136.2 L1271.8 2135.9 L1273.8 2135.5 L1275.7 2135.1 L1277.7 2134.8 L1279.6 2134.4 L1281.6 2133.9 L1283.5 2133.5 L1285.5 2133.1 L1287.4 2132.6 L1289.3 2132.1 L1291.2 2131.7 L1293.2 2131.1 L1295.1 2130.6 L1297.0 2130.1 L1298.9 2129.5 L1300.8 2128.9 L1302.8 2128.3 L1304.7 2127.7 L1306.6 2127.0 L1308.5 2126.4 L1310.4 2125.7 L1312.2 2125.0 L1314.1 2124.3 L1316.0 2123.6 L1317.9 2122.8 L1319.8 2122.1 L1321.6 2121.3 L1323.5 2120.5 L1325.3 2119.7 L1327.2 2118.9 L1329.0 2118.1 L1330.9 2117.3 L1332.7 2116.5 L1334.5 2115.7 L1336.3 2114.8 L1338.1 2114.0 L1339.9 2113.1 L1341.7 2112.2 L1343.5 2111.3 L1345.3 2110.4 L1347.1 2109.5 L1348.8 2108.6 L1350.6 2107.7 L1352.4 2106.7 L1354.1 2105.7 L1355.9 2104.8 L1357.6 2103.8 L1359.3 2102.7 L1361.1 2101.7 L1362.8 2100.7 L1364.5 2099.6 L1366.2 2098.5 L1367.9 2097.5 L1369.6 2096.4 L1371.3 2095.3 L1372.9 2094.1 L1374.6 2093.0 L1376.2 2091.9 L1377.9 2090.7 L1379.5 2089.6 L1381.1 2088.4 L1382.8 2087.2 L1384.4 2086.0 L1385.9 2084.8 L1387.5 2083.6 L1389.1 2082.4 L1390.7 2081.1 L1392.2 2079.9 L1393.8 2078.6 L1395.3 2077.3 L1396.8 2076.1 L1398.3 2074.8 L1399.8 2073.4 L1401.3 2072.1 L1402.8 2070.8 L1404.3 2069.4 L1405.8 2068.1 L1407.2 2066.7 L1408.7 2065.3 L1410.1 2063.9 L1411.6 2062.5 L1413.0 2061.1 L1414.4 2059.7 L1415.8 2058.3 L1417.2 2056.9 L1418.7 2055.4 L1420.1 2054.0 L1421.4 2052.5 L1422.8 2051.1 L1424.2 2049.6 L1425.6 2048.1 L1427.0 2046.7 L1428.3 2045.2 L1429.7 2043.7 L1431.0 2042.2 L1432.4 2040.8 L1433.7 2039.3 L1435.1 2037.8 L1436.4 2036.3 L1437.7 2034.8 L1439.1 2033.3 L1440.4 2031.8 L1441.7 2030.3 L1443.0 2028.8 L1444.3 2027.3 L1445.6 2025.7 L1446.9 2024.2 L1448.2 2022.7 L1449.5 2021.1 L1450.8 2019.6 L1452.1 2018.1 L1453.3 2016.5 L1454.6 2015.0 L1455.9 2013.4 L1457.1 2011.8 L1458.4 2010.3 L1459.6 2008.7 L1460.9 2007.1 L1462.1 2005.5 L1463.4 2004.0 L1464.6 2002.4 L1465.8 2000.8 L1467.0 1999.2 L1468.2 1997.6 L1469.4 1996.0 L1470.6 1994.4 L1471.8 1992.8 L1473.0 1991.1 L1474.2 1989.5 L1475.3 1987.9 L1476.5 1986.3 L1477.7 1984.6 L1478.8 1983.0 L1480.0 1981.4 L1481.1 1979.7 L1482.2 1978.1 L1483.3 1976.4 L1484.4 1974.8 L1485.6 1973.1 L1486.6 1971.4 L1487.7 1969.8 L1488.8 1968.1 L1489.9 1966.4 L1491.0 1964.7 L1492.0 1963.0 L1493.1 1961.3 L1494.1 1959.6 L1495.2 1957.9 L1496.2 1956.2 L1497.2 1954.5 L1498.3 1952.8 L1499.3 1951.1 L1500.3 1949.3 L1501.4 1947.6 L1502.4 1945.9 L1503.4 1944.2 L1504.4 1942.4 L1505.4 1940.7 L1506.4 1939.0 L1507.5 1937.2 L1508.5 1935.5 L1509.5 1933.8 L1510.5 1932.0 L1511.5 1930.3 L1512.5 1928.6 L1513.6 1926.9 L1514.6 1925.1 L1515.6 1923.4 L1516.6 1921.7 L1517.7 1920.0 L1518.7 1918.3 L1519.7 1916.5 L1520.8 1914.8 L1521.8 1913.1 L1522.9 1911.4 L1523.9 1909.7 L1525.0 1908.0 L1526.0 1906.3 L1527.1 1904.6 L1528.1 1902.9 L1529.2 1901.2 L1530.2 1899.5 L1531.3 1897.8 L1532.4 1896.1 L1533.4 1894.4 L1534.5 1892.7 L1535.5 1891.0 L1536.6 1889.3 L1537.6 1887.6 L1538.7 1885.9 L1539.8 1884.2 L1540.8 1882.5 L1541.9 1880.8 L1542.9 1879.1 L1544.0 1877.4 L1545.0 1875.7 L1546.1 1874.0 L1547.1 1872.3 L1548.2 1870.6 L1549.2 1868.9 L1550.3 1867.2 L1551.3 1865.4 L1552.4 1863.7 L1553.4 1862.0 L1554.4 1860.3 L1555.5 1858.6 L1556.5 1856.9 L1557.5 1855.2 L1558.6 1853.4 L1559.6 1851.7 L1560.6 1850.0 L1561.6 1848.3 L1562.7 1846.6 L1563.7 1844.8 L1564.7 1843.1 L1565.7 1841.4 L1566.7 1839.7 L1567.7 1837.9 L1568.7 1836.2 L1569.7 1834.5 L1570.8 1832.7 L1571.8 1831.0 L1572.8 1829.3 L1573.8 1827.5 L1574.8 1825.8 L1575.8 1824.1 L1576.8 1822.3 L1577.8 1820.6 L1578.8 1818.9 L1579.8 1817.1 L1580.8 1815.4 L1581.8 1813.7 L1582.8 1812.0 L1583.8 1810.2 L1584.8 1808.5 L1585.9 1806.8 L1586.9 1805.0 L1587.9 1803.3 L1588.9 1801.6 L1589.9 1799.9 L1590.9 1798.1 L1592.0 1796.4 L1593.0 1794.7 L1594.0 1793.0 L1595.0 1791.3 L1596.1 1789.5 L1597.1 1787.8 L1598.1 1786.1 L1599.2 1784.4 L1600.2 1782.7 L1601.2 1781.0 L1602.3 1779.3 L1603.3 1777.5 L1604.4 1775.8 L1605.4 1774.1 L1606.4 1772.4 L1607.5 1770.7 L1608.5 1769.0 L1609.6 1767.2 L1610.6 1765.5 L1611.6 1763.8 L1612.7 1762.1 L1613.7 1760.4 L1614.8 1758.6 L1615.8 1756.9 L1616.8 1755.2 L1617.9 1753.5 L1618.9 1751.8 L1620.0 1750.1 L1621.0 1748.3 L1622.1 1746.6 L1623.1 1744.9 L1624.2 1743.2 L1625.3 1741.5 L1626.3 1739.8 L1627.4 1738.1 L1628.5 1736.4 L1629.6 1734.7 L1630.6 1733.0 L1631.7 1731.3 L1632.8 1729.7 L1633.9 1728.0 L1635.0 1726.3 L1636.1 1724.6 L1637.2 1723.0 L1638.3 1721.3 L1639.5 1719.7 L1640.6 1718.0 L1641.7 1716.4 L1642.9 1714.7 L1644.0 1713.1 L1645.2 1711.5 L1646.3 1709.9 L1647.5 1708.3 L1648.7 1706.7 L1649.9 1705.1 L1651.1 1703.5 L1652.3 1701.9 L1653.5 1700.3 L1654.7 1698.7 L1655.9 1697.1 L1657.2 1695.6 L1658.4 1694.0 L1659.7 1692.4 L1661.0 1690.9 L1662.2 1689.3 L1663.5 1687.8 L1664.8 1686.3 L1666.1 1684.7 L1667.4 1683.2 L1668.8 1681.7 L1670.1 1680.2 L1671.5 1678.7 L1672.8 1677.2 L1674.2 1675.8 L1675.6 1674.3 L1676.9 1672.8 L1678.3 1671.4 L1679.8 1670.0 L1681.2 1668.6 L1682.6 1667.2 L1684.1 1665.8 L1685.5 1664.4 L1687.0 1663.1 L1688.5 1661.7 L1690.0 1660.4 L1691.5 1659.1 L1693.1 1657.8 L1694.6 1656.5 L1696.2 1655.3 L1697.8 1654.1 L1699.3 1652.8 L1701.0 1651.7 L1702.6 1650.5 L1704.3 1649.4 L1705.9 1648.3 L1707.6 1647.2 L1709.3 1646.2 L1711.0 1645.2 L1712.8 1644.3 L1714.5 1643.4 L1716.3 1642.5 L1718.1 1641.7 L1719.9 1640.9 L1721.8 1640.1 L1723.6 1639.4 L1725.5 1638.7 L1727.4 1638.0 L1729.3 1637.4 L1731.2 1636.8 L1733.1 1636.3 L1735.1 1635.7 L1737.0 1635.3 L1739.0 1634.8 L1741.0 1634.4 L1742.9 1634.1 L1744.9 1633.8 L1746.9 1633.6 L1748.9 1633.4 L1750.9 1633.3 L1752.9 1633.2 L1754.9 1633.2 L1756.9 1633.3 L1758.9 1633.4 L1760.9 1633.7 L1762.9 1633.9 L1764.9 1634.3 L1766.9 1634.7 L1768.9 1635.1 L1770.8 1635.7 L1772.8 1636.2 L1774.7 1636.9 L1776.5 1637.6 L1778.3 1638.3 L1780.1 1639.1 L1781.8 1639.9 L1783.5 1640.8 L1785.1 1641.8 L1786.6 1642.8 L1788.1 1643.9 L1789.6 1645.1 L1790.9 1646.3 L1792.3 1647.6 L1793.5 1648.9 L1794.8 1650.3 L1796.0 1651.8 L1797.1 1653.4 L1798.2 1655.0 L1799.2 1656.7 L1800.2 1658.5 L1801.2 1660.2 L1802.1 1662.1 L1803.0 1663.9 L1803.8 1665.8 L1804.6 1667.7 L1805.4 1669.7 L1806.1 1671.6 L1806.7 1673.5 L1807.3 1675.5 L1807.9 1677.4 L1808.4 1679.4 L1808.9 1681.4 L1809.4 1683.3 L1809.8 1685.3 L1810.2 1687.2 L1810.6 1689.2 L1811.0 1691.2 L1811.3 1693.1 L1811.6 1695.1 L1811.9 1697.1 L1812.2 1699.1 L1812.5 1701.1 L1812.8 1703.1 L1813.1 1705.1 L1813.4 1707.1 L1813.7 1709.1 L1814.0 1711.1 L1814.3 1713.1 L1814.6 1715.1 L1814.9 1717.1 L1815.2 1719.1 L1815.5 1721.1 L1815.8 1723.1 L1816.2 1725.1 L1816.5 1727.1 L1816.9 1729.1 L1817.2 1731.1 L1817.6 1733.1 L1818.0 1735.1 L1818.4 1737.0 L1818.8 1739.0 L1819.2 1741.0 L1819.6 1743.0 L1820.0 1744.9 L1820.5 1746.9 L1821.0 1748.8 L1821.5 1750.8 L1822.0 1752.7 L1822.5 1754.6 L1823.1 1756.5 L1823.7 1758.4 L1824.3 1760.2 L1825.0 1762.1 L1825.7 1763.9 L1826.4 1765.7 L1827.2 1767.5 L1828.0 1769.3 L1828.9 1771.0 L1829.9 1772.8 L1830.8 1774.5 L1831.9 1776.2 L1832.9 1777.9 L1834.0 1779.5 L1835.2 1781.2 L1836.4 1782.8 L1837.6 1784.4 L1838.9 1785.9 L1840.2 1787.5 L1841.5 1789.0 L1842.9 1790.5 L1844.3 1791.9 L1845.7 1793.3 L1847.1 1794.7 L1848.6 1796.1 L1850.1 1797.4 L1851.6 1798.7 L1853.2 1800.0 L1854.7 1801.2 L1856.3 1802.4 L1857.9 1803.6 L1859.6 1804.7 L1861.3 1805.8 L1862.9 1806.9 L1864.7 1808.0 L1866.4 1809.0 L1868.1 1809.9 L1869.9 1810.8 L1871.7 1811.7 L1873.5 1812.6 L1875.3 1813.4 L1877.2 1814.2 L1879.0 1814.9 L1880.9 1815.6 L1882.8 1816.3 L1884.7 1816.9 L1886.6 1817.5 L1888.5 1818.1 L1890.4 1818.6 L1892.3 1819.1 L1894.3 1819.5 L1896.2 1819.9 L1898.2 1820.3 L1900.2 1820.6 L1902.1 1820.9 L1904.1 1821.2 L1906.1 1821.4 L1908.1 1821.6 L1910.1 1821.8 L1912.1 1822.0 L1914.1 1822.1 L1916.0 1822.2 L1918.0 1822.3 L1920.0 1822.4 L1922.0 1822.4 L1924.0 1822.5 L1926.1 1822.5 L1928.1 1822.6 L1930.1 1822.6 L1932.1 1822.6 L1934.1 1822.7 L1936.1 1822.7" fill="none" stroke="#f03e28" stroke-width="21.5" stroke-linejoin="round" />
<path d="M1228.0 2149.8 L1230.0 2149.8 L1232.1 2149.7 L1234.1 2149.7 L1236.1 2149.7 L1238.2 2149.6 L1240.2 2149.6 L1242.2 2149.6 L1244.2 2149.5 L1246.2 2149.4 L1248.3 2149.4 L1250.3 2149.3 L1252.3 2149.3 L1254.3 2149.2 L1256.3 2149.1 L1258.3 2149.0 L1260.3 2148.9 L1262.3 2148.8 L1264.3 2148.7 L1266.3 2148.6 L1268.3 2148.5 L1270.3 2148.4 L1272.3 2148.3 L1274.2 2148.2 L1276.2 2148.0 L1278.2 2147.9 L1280.2 2147.8 L1282.1 2147.6 L1284.1 2147.4 L1286.1 2147.2 L1288.1 2147.0 L1290.0 2146.8 L1292.0 2146.6 L1294.0 2146.3 L1295.9 2146.1 L1297.9 2145.8 L1299.9 2145.4 L1301.8 2145.1 L1303.8 2144.7 L1305.8 2144.2 L1307.7 2143.8 L1309.7 2143.3 L1311.6 2142.8 L1313.6 2142.2 L1315.5 2141.7 L1317.5 2141.1 L1319.4 2140.4 L1321.3 2139.8 L1323.2 2139.1 L1325.0 2138.4 L1326.9 2137.7 L1328.8 2136.9 L1330.6 2136.2 L1332.4 2135.4 L1334.2 2134.5 L1335.9 2133.7 L1337.7 2132.8 L1339.4 2131.9 L1341.1 2130.9 L1342.8 2130.0 L1344.5 2128.9 L1346.1 2127.9 L1347.7 2126.8 L1349.4 2125.7 L1351.0 2124.5 L1352.5 2123.3 L1354.1 2122.1 L1355.7 2120.8 L1357.2 2119.5 L1358.7 2118.2 L1360.2 2116.8 L1361.7 2115.5 L1363.2 2114.1 L1364.7 2112.7 L1366.1 2111.3 L1367.6 2109.9 L1369.0 2108.4 L1370.4 2107.0 L1371.8 2105.5 L1373.2 2104.1 L1374.6 2102.6 L1376.0 2101.1 L1377.4 2099.7 L1378.7 2098.2 L1380.0 2096.7 L1381.4 2095.2 L1382.7 2093.7 L1384.0 2092.2 L1385.3 2090.7 L1386.6 2089.2 L1387.9 2087.6 L1389.2 2086.1 L1390.4 2084.5 L1391.7 2083.0 L1392.9 2081.4 L1394.2 2079.8 L1395.4 2078.3 L1396.7 2076.7 L1397.9 2075.1 L1399.1 2073.5 L1400.4 2071.9 L1401.6 2070.3 L1402.8 2068.7 L1404.0 2067.1 L1405.2 2065.5 L1406.4 2063.9 L1407.6 2062.3 L1408.8 2060.7 L1410.0 2059.1 L1411.2 2057.5 L1412.4 2055.9 L1413.6 2054.3 L1414.8 2052.7 L1416.0 2051.1 L1417.2 2049.5 L1418.3 2047.9 L1419.5 2046.2 L1420.7 2044.6 L1421.8 2043.0 L1423.0 2041.3 L1424.2 2039.7 L1425.3 2038.1 L1426.5 2036.4 L1427.6 2034.8 L1428.8 2033.2 L1429.9 2031.5 L1431.0 2029.9 L1432.2 2028.2 L1433.3 2026.6 L1434.4 2024.9 L1435.5 2023.3 L1436.6 2021.6 L1437.8 2019.9 L1438.9 2018.3 L1440.0 2016.6 L1441.1 2014.9 L1442.2 2013.2 L1443.2 2011.6 L1444.3 2009.9 L1445.4 2008.2 L1446.5 2006.5 L1447.6 2004.8 L1448.6 2003.1 L1449.7 2001.5 L1450.8 1999.8 L1451.8 1998.1 L1452.9 1996.4 L1453.9 1994.7 L1455.0 1993.0 L1456.0 1991.2 L1457.1 1989.5 L1458.1 1987.8 L1459.1 1986.1 L1460.1 1984.4 L1461.2 1982.7 L1462.2 1980.9 L1463.2 1979.2 L1464.2 1977.5 L1465.2 1975.7 L1466.2 1974.0 L1467.1 1972.3 L1468.1 1970.5 L1469.1 1968.8 L1470.1 1967.0 L1471.0 1965.3 L1472.0 1963.5 L1472.9 1961.8 L1473.9 1960.0 L1474.9 1958.3 L1475.8 1956.5 L1476.8 1954.7 L1477.7 1953.0 L1478.7 1951.2 L1479.6 1949.5 L1480.6 1947.7 L1481.6 1946.0 L1482.5 1944.2 L1483.5 1942.5 L1484.5 1940.7 L1485.5 1939.0 L1486.4 1937.2 L1487.4 1935.5 L1488.4 1933.7 L1489.4 1932.0 L1490.4 1930.3 L1491.4 1928.5 L1492.4 1926.8 L1493.4 1925.1 L1494.4 1923.4 L1495.5 1921.6 L1496.5 1919.9 L1497.5 1918.2 L1498.5 1916.5 L1499.5 1914.7 L1500.6 1913.0 L1501.6 1911.3 L1502.6 1909.6 L1503.6 1907.9 L1504.6 1906.1 L1505.7 1904.4 L1506.7 1902.7 L1507.7 1901.0 L1508.7 1899.3 L1509.7 1897.5 L1510.7 1895.8 L1511.7 1894.1 L1512.7 1892.3 L1513.7 1890.6 L1514.7 1888.9 L1515.7 1887.1 L1516.7 1885.4 L1517.7 1883.6 L1518.6 1881.9 L1519.6 1880.1 L1520.6 1878.4 L1521.6 1876.7 L1522.5 1874.9 L1523.5 1873.2 L1524.5 1871.4 L1525.5 1869.7 L1526.4 1867.9 L1527.4 1866.2 L1528.4 1864.4 L1529.4 1862.7 L1530.3 1860.9 L1531.3 1859.2 L1532.3 1857.5 L1533.3 1855.7 L1534.3 1854.0 L1535.3 1852.3 L1536.3 1850.5 L1537.3 1848.8 L1538.3 1847.1 L1539.3 1845.3 L1540.4 1843.6 L1541.4 1841.9 L1542.4 1840.2 L1543.4 1838.5 L1544.5 1836.8 L1545.5 1835.0 L1546.5 1833.3 L1547.6 1831.6 L1548.6 1829.9 L1549.7 1828.2 L1550.7 1826.5 L1551.7 1824.8 L1552.8 1823.1 L1553.8 1821.4 L1554.9 1819.7 L1555.9 1818.0 L1557.0 1816.3 L1558.0 1814.6 L1559.1 1812.9 L1560.1 1811.2 L1561.2 1809.4 L1562.2 1807.7 L1563.2 1806.0 L1564.3 1804.3 L1565.3 1802.6 L1566.4 1800.9 L1567.4 1799.2 L1568.4 1797.5 L1569.5 1795.8 L1570.5 1794.1 L1571.5 1792.3 L1572.6 1790.6 L1573.6 1788.9 L1574.6 1787.2 L1575.7 1785.5 L1576.7 1783.8 L1577.8 1782.1 L1578.8 1780.4 L1579.8 1778.7 L1580.9 1777.0 L1582.0 1775.3 L1583.0 1773.6 L1584.1 1771.9 L1585.1 1770.2 L1586.2 1768.5 L1587.3 1766.8 L1588.4 1765.1 L1589.4 1763.4 L1590.5 1761.7 L1591.6 1760.1 L1592.7 1758.4 L1593.8 1756.7 L1594.9 1755.0 L1596.0 1753.4 L1597.1 1751.7 L1598.2 1750.0 L1599.3 1748.4 L1600.4 1746.7 L1601.6 1745.1 L1602.7 1743.4 L1603.8 1741.8 L1605.0 1740.1 L1606.1 1738.5 L1607.3 1736.8 L1608.4 1735.2 L1609.6 1733.6 L1610.7 1731.9 L1611.9 1730.3 L1613.1 1728.7 L1614.2 1727.1 L1615.4 1725.5 L1616.6 1723.8 L1617.8 1722.2 L1619.0 1720.6 L1620.2 1719.0 L1621.4 1717.4 L1622.6 1715.8 L1623.8 1714.2 L1625.0 1712.6 L1626.3 1711.0 L1627.5 1709.5 L1628.7 1707.9 L1630.0 1706.3 L1631.2 1704.7 L1632.5 1703.2 L1633.7 1701.6 L1635.0 1700.1 L1636.3 1698.5 L1637.6 1697.0 L1638.9 1695.5 L1640.2 1694.0 L1641.5 1692.5 L1642.8 1691.0 L1644.2 1689.5 L1645.5 1688.0 L1646.8 1686.5 L1648.2 1685.1 L1649.6 1683.6 L1651.0 1682.1 L1652.3 1680.7 L1653.7 1679.2 L1655.2 1677.8 L1656.6 1676.3 L1658.0 1674.9 L1659.4 1673.5 L1660.9 1672.1 L1662.3 1670.7 L1663.8 1669.3 L1665.3 1667.9 L1666.8 1666.6 L1668.3 1665.2 L1669.8 1663.9 L1671.3 1662.6 L1672.9 1661.3 L1674.4 1660.1 L1676.0 1658.8 L1677.6 1657.6 L1679.1 1656.4 L1680.7 1655.2 L1682.4 1654.1 L1684.0 1652.9 L1685.7 1651.8 L1687.3 1650.7 L1689.0 1649.7 L1690.7 1648.6 L1692.4 1647.6 L1694.2 1646.5 L1695.9 1645.5 L1697.7 1644.5 L1699.5 1643.5 L1701.3 1642.6 L1703.1 1641.6 L1704.9 1640.7 L1706.7 1639.9 L1708.6 1639.0 L1710.5 1638.2 L1712.3 1637.5 L1714.2 1636.8 L1716.1 1636.1 L1718.0 1635.5 L1719.9 1635.0 L1721.8 1634.5 L1723.7 1634.1 L1725.6 1633.8 L1727.6 1633.5 L1729.5 1633.4 L1731.5 1633.2 L1733.5 1633.2 L1735.4 1633.2 L1737.4 1633.3 L1739.4 1633.4 L1741.4 1633.6 L1743.4 1633.8 L1745.4 1634.1 L1747.5 1634.5 L1749.5 1634.9 L1751.5 1635.3 L1753.5 1635.8 L1755.5 1636.3 L1757.4 1636.9 L1759.4 1637.5 L1761.3 1638.1 L1763.2 1638.7 L1765.0 1639.4 L1766.9 1640.1 L1768.6 1640.9 L1770.4 1641.7 L1772.1 1642.5 L1773.7 1643.4 L1775.4 1644.3 L1776.9 1645.3 L1778.5 1646.3 L1780.0 1647.4 L1781.4 1648.6 L1782.8 1649.8 L1784.2 1651.1 L1785.6 1652.4 L1786.9 1653.8 L1788.2 1655.3 L1789.5 1656.8 L1790.7 1658.4 L1791.9 1660.0 L1793.1 1661.7 L1794.2 1663.4 L1795.3 1665.2 L1796.3 1667.0 L1797.4 1668.8 L1798.4 1670.6 L1799.3 1672.5 L1800.2 1674.3 L1801.1 1676.2 L1801.9 1678.0 L1802.7 1679.9 L1803.5 1681.8 L1804.3 1683.6 L1805.0 1685.5 L1805.6 1687.4 L1806.3 1689.3 L1806.9 1691.2 L1807.5 1693.1 L1808.1 1695.0 L1808.7 1696.9 L1809.2 1698.8 L1809.7 1700.8 L1810.2 1702.7 L1810.7 1704.7 L1811.2 1706.6 L1811.7 1708.6 L1812.1 1710.6 L1812.5 1712.5 L1812.9 1714.5 L1813.4 1716.5 L1813.7 1718.5 L1814.1 1720.4 L1814.5 1722.4 L1814.9 1724.4 L1815.2 1726.4 L1815.6 1728.4 L1815.9 1730.4 L1816.2 1732.3 L1816.5 1734.3 L1816.8 1736.3 L1817.1 1738.3 L1817.4 1740.3 L1817.7 1742.2 L1818.0 1744.2 L1818.3 1746.2 L1818.5 1748.2 L1818.8 1750.2 L1819.1 1752.2 L1819.3 1754.2 L1819.5 1756.1 L1819.8 1758.1 L1820.0 1760.1 L1820.2 1762.1 L1820.4 1764.1 L1820.6 1766.1 L1820.8 1768.1 L1821.0 1770.1 L1821.2 1772.1 L1821.4 1774.1 L1821.5 1776.1 L1821.7 1778.1 L1821.9 1780.0 L1822.0 1782.0 L1822.1 1784.0 L1822.3 1786.0 L1822.4 1788.0 L1822.5 1790.0 L1822.7 1792.0 L1822.8 1794.0 L1822.9 1796.0 L1823.0 1798.0 L1823.1 1800.0 L1823.2 1802.0 L1823.3 1804.0 L1823.4 1806.0 L1823.5 1808.0 L1823.6 1810.0 L1823.7 1812.0 L1823.8 1814.0 L1823.8 1816.0 L1823.9 1818.0 L1824.0 1820.0 L1824.0 1822.0 L1824.1 1824.0 L1824.1 1826.0 L1824.2 1828.0 L1824.2 1830.0 L1824.3 1832.0 L1824.3 1834.0 L1824.3 1836.0 L1824.4 1838.0 L1824.4 1840.0 L1824.4 1842.0 L1824.5 1844.0 L1824.5 1846.0 L1824.5 1848.0" fill="none" stroke="#1b1795" stroke-width="18.5" stroke-linejoin="round" stroke-dasharray="33 16.8" stroke-dashoffset="5"/>
<rect x="1224.2" y="1423.0" width="715.3" height="856.2" fill="none" stroke="#231815" stroke-width="8"/>
<line x1="1224.2" y1="1528.8" x2="1256.5" y2="1528.8" stroke="#231815" stroke-width="6.4" />
<line x1="1224.2" y1="1637.1" x2="1256.5" y2="1637.1" stroke="#231815" stroke-width="6.4" />
<line x1="1224.2" y1="1744.0" x2="1256.5" y2="1744.0" stroke="#231815" stroke-width="6.4" />
<line x1="1224.2" y1="1957.5" x2="1256.5" y2="1957.5" stroke="#231815" stroke-width="6.4" />
<line x1="1224.2" y1="2067.0" x2="1256.5" y2="2067.0" stroke="#231815" stroke-width="6.4" />
<line x1="1224.2" y1="2174.6" x2="1256.5" y2="2174.6" stroke="#231815" stroke-width="6.4" />
<line x1="1403.6" y1="2247.2" x2="1403.6" y2="2279.2" stroke="#231815" stroke-width="5.2" />
<line x1="1584.2" y1="2247.2" x2="1584.2" y2="2279.2" stroke="#231815" stroke-width="5.2" />
<line x1="1762.5" y1="2247.2" x2="1762.5" y2="2279.2" stroke="#231815" stroke-width="5.2" />
<text x="1140.3" y="1439.5" font-size="49.0" font-family="'Liberation Serif','DejaVu Serif',serif" text-anchor="start" font-weight="normal" fill="#231815" >0.1</text>
<text x="1111.8" y="1654.7" font-size="51.6" font-family="'Liberation Serif','DejaVu Serif',serif" text-anchor="start" font-weight="normal" fill="#231815" >0.05</text>
<text x="1167.9" y="1867.9" font-size="54.0" font-family="'Liberation Serif','DejaVu Serif',serif" text-anchor="start" font-weight="normal" fill="#231815" >0</text>
<text x="1097.3" y="2085.4" font-size="51.3" font-family="'Liberation Serif','DejaVu Serif',serif" text-anchor="start" font-weight="normal" fill="#231815" >-0.05</text>
<text x="1127.7" y="2291.7" font-size="50.5" font-family="'Liberation Serif','DejaVu Serif',serif" text-anchor="start" font-weight="normal" fill="#231815" >-0.1</text>
<text x="1212.5" y="2335.7" font-size="52.6" font-family="'Liberation Serif','DejaVu Serif',serif" text-anchor="start" font-weight="normal" fill="#231815" >0</text>
<text x="1360.1" y="2337.1" font-size="52.2" font-family="'Liberation Serif','DejaVu Serif',serif" text-anchor="start" font-weight="normal" fill="#231815" >100</text>
<text x="1540.1" y="2336.5" font-size="52.6" font-family="'Liberation Serif','DejaVu Serif',serif" text-anchor="start" font-weight="normal" fill="#231815" >200</text>
<text x="1717.0" y="2334.2" font-size="52.8" font-family="'Liberation Serif','DejaVu Serif',serif" text-anchor="start" font-weight="normal" fill="#231815" >300</text>
<text x="1892.7" y="2334.2" font-size="52.1" font-family="'Liberation Serif','DejaVu Serif',serif" text-anchor="start" font-weight="normal" fill="#231815" >400</text>
<text x="1809.8" y="2388.3" font-size="58.0" font-family="'Liberation Serif','DejaVu Serif',serif" text-anchor="start" font-weight="normal" fill="#231815" >T, K</text>
<text transform="translate(1101.2,1988.9) rotate(-90)" font-size="69.4" font-family="'Liberation Serif','DejaVu Serif',serif" fill="#231815">m, emu/g</text>
<text x="1421.1" y="1517.1" font-size="64.3" font-family="'Liberation Serif','DejaVu Serif',serif" text-anchor="start" font-weight="normal" fill="#231815" ><tspan font-size="64.3" dy="0.0">YFe</tspan><tspan font-size="36.7" dy="14.5">1-x</tspan><tspan font-size="64.3" dy="-14.5">Cr</tspan><tspan font-size="36.7" dy="14.5">x</tspan><tspan font-size="64.3" dy="-14.5">O</tspan><tspan font-size="36.7" dy="14.5">3</tspan></text>
<text x="1875.1" y="1786.4" font-size="51.0" font-family="'Liberation Sans','DejaVu Sans',sans-serif" text-anchor="start" font-weight="normal" fill="#231815" >2</text>
<text x="1626.6" y="1913.7" font-size="51.0" font-family="'Liberation Sans','DejaVu Sans',sans-serif" text-anchor="start" font-weight="normal" fill="#231815" >1</text>
</g>
<text transform="translate(447.4,1376.1) scale(1,1.000)" font-size="73.1" font-family="'Liberation Serif','DejaVu Serif',serif" fill="#000">(<tspan font-weight="bold">a</tspan>)</text>
<text transform="translate(1465.0,1376.1) scale(1,1.000)" font-size="75.2" font-family="'Liberation Serif','DejaVu Serif',serif" fill="#000">(<tspan font-weight="bold">b</tspan>)</text>
<text transform="translate(450.8,2490.2) scale(1,1.000)" font-size="71.5" font-family="'Liberation Serif','DejaVu Serif',serif" fill="#000">(<tspan font-weight="bold">c</tspan>)</text>
<text transform="translate(1463.8,2490.2) scale(1,1.000)" font-size="76.6" font-family="'Liberation Serif','DejaVu Serif',serif" fill="#000">(<tspan font-weight="bold">d</tspan>)</text>
</svg>
</body></html>
